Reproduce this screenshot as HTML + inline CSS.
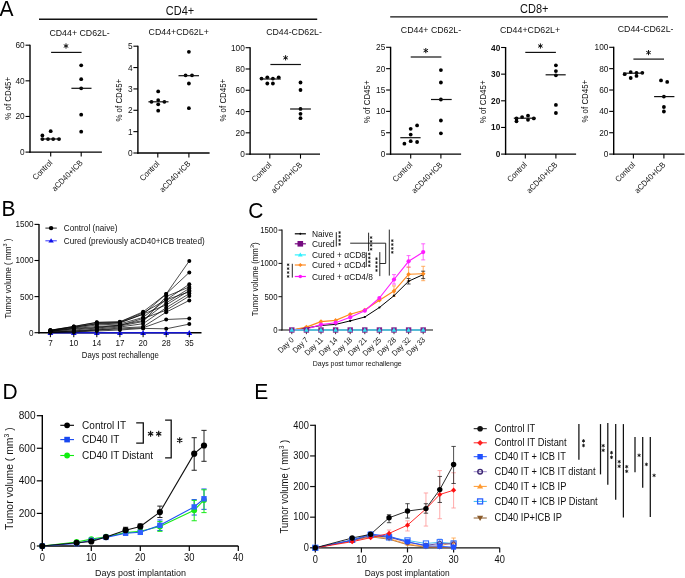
<!DOCTYPE html>
<html><head><meta charset="utf-8"><style>
html,body{margin:0;padding:0;background:#fff;}
svg{display:block;font-family:"Liberation Sans", sans-serif;will-change:transform;}
</style></head><body>
<svg width="685" height="578" viewBox="0 0 685 578">
<rect width="685" height="578" fill="#fff"/>
<text transform="translate(-0.50 15.50) scale(1 1.05)" font-size="21" text-anchor="start" fill="#000" font-weight="normal">A</text>
<text transform="translate(1.60 216.00) scale(1 1.05)" font-size="21" text-anchor="start" fill="#000" font-weight="normal">B</text>
<text transform="translate(248.20 218.20) scale(1 1.05)" font-size="21" text-anchor="start" fill="#000" font-weight="normal">C</text>
<text transform="translate(2.50 398.90) scale(1 1.05)" font-size="21" text-anchor="start" fill="#000" font-weight="normal">D</text>
<text transform="translate(254.30 398.90) scale(1 1.05)" font-size="21" text-anchor="start" fill="#000" font-weight="normal">E</text>
<text transform="translate(180.00 14.80) scale(1 1.1)" font-size="11" text-anchor="middle" fill="#111" font-weight="normal">CD4+</text>
<line x1="39.00" y1="19.30" x2="317.20" y2="19.30" stroke="#111" stroke-width="1.4"/>
<text transform="translate(534.30 12.80) scale(1 1.1)" font-size="11" text-anchor="middle" fill="#111" font-weight="normal">CD8+</text>
<line x1="390.20" y1="16.90" x2="668.00" y2="16.90" stroke="#111" stroke-width="1.4"/>
<line x1="30.00" y1="44.70" x2="30.00" y2="152.80" stroke="#000" stroke-width="1.4"/>
<line x1="29.30" y1="152.10" x2="101.90" y2="152.10" stroke="#000" stroke-width="1.4"/>
<line x1="25.50" y1="152.10" x2="30.00" y2="152.10" stroke="#000" stroke-width="1.1"/>
<text transform="translate(24.70 155.10) scale(1 1.1)" font-size="8.3" text-anchor="end" fill="#111" font-weight="normal">0</text>
<line x1="25.50" y1="116.47" x2="30.00" y2="116.47" stroke="#000" stroke-width="1.1"/>
<text transform="translate(24.70 119.47) scale(1 1.1)" font-size="8.3" text-anchor="end" fill="#111" font-weight="normal">20</text>
<line x1="25.50" y1="80.83" x2="30.00" y2="80.83" stroke="#000" stroke-width="1.1"/>
<text transform="translate(24.70 83.83) scale(1 1.1)" font-size="8.3" text-anchor="end" fill="#111" font-weight="normal">40</text>
<line x1="25.50" y1="45.20" x2="30.00" y2="45.20" stroke="#000" stroke-width="1.1"/>
<text transform="translate(24.70 48.20) scale(1 1.1)" font-size="8.3" text-anchor="end" fill="#111" font-weight="normal">60</text>
<line x1="50.70" y1="152.10" x2="50.70" y2="156.60" stroke="#000" stroke-width="1.1"/>
<line x1="81.20" y1="152.10" x2="81.20" y2="156.60" stroke="#000" stroke-width="1.1"/>
<text transform="translate(52.90 163.40) rotate(-45) scale(1 1.1)" font-size="7.5" text-anchor="end" fill="#111" font-weight="normal">Control</text>
<text transform="translate(83.40 163.40) rotate(-45) scale(1 1.1)" font-size="7.5" text-anchor="end" fill="#111" font-weight="normal">aCD40+ICB</text>
<circle cx="42.40" cy="135.40" r="1.9" fill="#000" stroke="none" stroke-width="0"/>
<circle cx="50.70" cy="131.20" r="1.9" fill="#000" stroke="none" stroke-width="0"/>
<circle cx="42.40" cy="139.10" r="1.9" fill="#000" stroke="none" stroke-width="0"/>
<circle cx="48.00" cy="139.10" r="1.9" fill="#000" stroke="none" stroke-width="0"/>
<circle cx="53.20" cy="139.10" r="1.9" fill="#000" stroke="none" stroke-width="0"/>
<circle cx="59.00" cy="139.10" r="1.9" fill="#000" stroke="none" stroke-width="0"/>
<circle cx="81.20" cy="65.30" r="1.9" fill="#000" stroke="none" stroke-width="0"/>
<circle cx="81.20" cy="79.20" r="1.9" fill="#000" stroke="none" stroke-width="0"/>
<circle cx="81.20" cy="88.30" r="1.9" fill="#000" stroke="none" stroke-width="0"/>
<circle cx="81.20" cy="114.70" r="1.9" fill="#000" stroke="none" stroke-width="0"/>
<circle cx="81.20" cy="131.70" r="1.9" fill="#000" stroke="none" stroke-width="0"/>
<line x1="40.70" y1="139.00" x2="60.40" y2="139.00" stroke="#111" stroke-width="1.2"/>
<line x1="71.40" y1="88.30" x2="91.50" y2="88.30" stroke="#111" stroke-width="1.2"/>
<text transform="translate(79.60 35.90) scale(1 1.1)" font-size="8.8" text-anchor="middle" fill="#111" font-weight="normal">CD44+ CD62L-</text>
<text transform="translate(11.20 98.30) rotate(-90) scale(1 1.1)" font-size="7.9" text-anchor="middle" fill="#111" font-weight="normal">% of CD45+</text>
<line x1="51.10" y1="52.40" x2="81.60" y2="52.40" stroke="#111" stroke-width="1.2"/>
<path d="M66.00,43.40L66.00,48.60M63.75,44.70L68.25,47.30M68.25,44.70L63.75,47.30" stroke="#111" stroke-width="1.0" fill="none"/>
<line x1="137.90" y1="45.70" x2="137.90" y2="153.70" stroke="#000" stroke-width="1.4"/>
<line x1="137.20" y1="153.00" x2="209.60" y2="153.00" stroke="#000" stroke-width="1.4"/>
<line x1="133.40" y1="153.00" x2="137.90" y2="153.00" stroke="#000" stroke-width="1.1"/>
<text transform="translate(132.60 156.00) scale(1 1.1)" font-size="8.3" text-anchor="end" fill="#111" font-weight="normal">0</text>
<line x1="133.40" y1="131.64" x2="137.90" y2="131.64" stroke="#000" stroke-width="1.1"/>
<text transform="translate(132.60 134.64) scale(1 1.1)" font-size="8.3" text-anchor="end" fill="#111" font-weight="normal">1</text>
<line x1="133.40" y1="110.28" x2="137.90" y2="110.28" stroke="#000" stroke-width="1.1"/>
<text transform="translate(132.60 113.28) scale(1 1.1)" font-size="8.3" text-anchor="end" fill="#111" font-weight="normal">2</text>
<line x1="133.40" y1="88.92" x2="137.90" y2="88.92" stroke="#000" stroke-width="1.1"/>
<text transform="translate(132.60 91.92) scale(1 1.1)" font-size="8.3" text-anchor="end" fill="#111" font-weight="normal">3</text>
<line x1="133.40" y1="67.56" x2="137.90" y2="67.56" stroke="#000" stroke-width="1.1"/>
<text transform="translate(132.60 70.56) scale(1 1.1)" font-size="8.3" text-anchor="end" fill="#111" font-weight="normal">4</text>
<line x1="133.40" y1="46.20" x2="137.90" y2="46.20" stroke="#000" stroke-width="1.1"/>
<text transform="translate(132.60 49.20) scale(1 1.1)" font-size="8.3" text-anchor="end" fill="#111" font-weight="normal">5</text>
<line x1="157.80" y1="153.00" x2="157.80" y2="157.50" stroke="#000" stroke-width="1.1"/>
<line x1="188.90" y1="153.00" x2="188.90" y2="157.50" stroke="#000" stroke-width="1.1"/>
<text transform="translate(160.00 164.30) rotate(-45) scale(1 1.1)" font-size="7.5" text-anchor="end" fill="#111" font-weight="normal">Control</text>
<text transform="translate(191.10 164.30) rotate(-45) scale(1 1.1)" font-size="7.5" text-anchor="end" fill="#111" font-weight="normal">aCD40+ICB</text>
<circle cx="158.20" cy="91.40" r="1.9" fill="#000" stroke="none" stroke-width="0"/>
<circle cx="151.50" cy="101.80" r="1.9" fill="#000" stroke="none" stroke-width="0"/>
<circle cx="158.20" cy="100.10" r="1.9" fill="#000" stroke="none" stroke-width="0"/>
<circle cx="164.40" cy="101.80" r="1.9" fill="#000" stroke="none" stroke-width="0"/>
<circle cx="158.20" cy="104.30" r="1.9" fill="#000" stroke="none" stroke-width="0"/>
<circle cx="158.20" cy="110.70" r="1.9" fill="#000" stroke="none" stroke-width="0"/>
<circle cx="188.90" cy="51.80" r="1.9" fill="#000" stroke="none" stroke-width="0"/>
<circle cx="185.60" cy="75.30" r="1.9" fill="#000" stroke="none" stroke-width="0"/>
<circle cx="192.00" cy="75.30" r="1.9" fill="#000" stroke="none" stroke-width="0"/>
<circle cx="188.90" cy="83.50" r="1.9" fill="#000" stroke="none" stroke-width="0"/>
<circle cx="188.90" cy="108.20" r="1.9" fill="#000" stroke="none" stroke-width="0"/>
<line x1="148.40" y1="101.80" x2="168.50" y2="101.80" stroke="#111" stroke-width="1.2"/>
<line x1="178.50" y1="75.70" x2="199.00" y2="75.70" stroke="#111" stroke-width="1.2"/>
<text transform="translate(178.70 35.00) scale(1 1.1)" font-size="8.8" text-anchor="middle" fill="#111" font-weight="normal">CD44+CD62L+</text>
<text transform="translate(122.20 100.20) rotate(-90) scale(1 1.1)" font-size="7.9" text-anchor="middle" fill="#111" font-weight="normal">% of CD45+</text>
<line x1="250.10" y1="47.20" x2="250.10" y2="154.80" stroke="#000" stroke-width="1.4"/>
<line x1="249.40" y1="154.10" x2="320.00" y2="154.10" stroke="#000" stroke-width="1.4"/>
<line x1="245.60" y1="154.10" x2="250.10" y2="154.10" stroke="#000" stroke-width="1.1"/>
<text transform="translate(244.80 157.10) scale(1 1.1)" font-size="8.3" text-anchor="end" fill="#111" font-weight="normal">0</text>
<line x1="245.60" y1="132.82" x2="250.10" y2="132.82" stroke="#000" stroke-width="1.1"/>
<text transform="translate(244.80 135.82) scale(1 1.1)" font-size="8.3" text-anchor="end" fill="#111" font-weight="normal">20</text>
<line x1="245.60" y1="111.54" x2="250.10" y2="111.54" stroke="#000" stroke-width="1.1"/>
<text transform="translate(244.80 114.54) scale(1 1.1)" font-size="8.3" text-anchor="end" fill="#111" font-weight="normal">40</text>
<line x1="245.60" y1="90.26" x2="250.10" y2="90.26" stroke="#000" stroke-width="1.1"/>
<text transform="translate(244.80 93.26) scale(1 1.1)" font-size="8.3" text-anchor="end" fill="#111" font-weight="normal">60</text>
<line x1="245.60" y1="68.98" x2="250.10" y2="68.98" stroke="#000" stroke-width="1.1"/>
<text transform="translate(244.80 71.98) scale(1 1.1)" font-size="8.3" text-anchor="end" fill="#111" font-weight="normal">80</text>
<line x1="245.60" y1="47.70" x2="250.10" y2="47.70" stroke="#000" stroke-width="1.1"/>
<text transform="translate(244.80 50.70) scale(1 1.1)" font-size="8.3" text-anchor="end" fill="#111" font-weight="normal">100</text>
<line x1="269.80" y1="154.10" x2="269.80" y2="158.60" stroke="#000" stroke-width="1.1"/>
<line x1="300.50" y1="154.10" x2="300.50" y2="158.60" stroke="#000" stroke-width="1.1"/>
<text transform="translate(272.00 165.40) rotate(-45) scale(1 1.1)" font-size="7.5" text-anchor="end" fill="#111" font-weight="normal">Control</text>
<text transform="translate(302.70 165.40) rotate(-45) scale(1 1.1)" font-size="7.5" text-anchor="end" fill="#111" font-weight="normal">aCD40+ICB</text>
<circle cx="261.50" cy="78.60" r="1.9" fill="#000" stroke="none" stroke-width="0"/>
<circle cx="267.30" cy="77.30" r="1.9" fill="#000" stroke="none" stroke-width="0"/>
<circle cx="272.90" cy="78.60" r="1.9" fill="#000" stroke="none" stroke-width="0"/>
<circle cx="278.70" cy="77.30" r="1.9" fill="#000" stroke="none" stroke-width="0"/>
<circle cx="267.30" cy="83.50" r="1.9" fill="#000" stroke="none" stroke-width="0"/>
<circle cx="272.90" cy="83.50" r="1.9" fill="#000" stroke="none" stroke-width="0"/>
<circle cx="300.50" cy="82.50" r="1.9" fill="#000" stroke="none" stroke-width="0"/>
<circle cx="300.50" cy="90.00" r="1.9" fill="#000" stroke="none" stroke-width="0"/>
<circle cx="300.50" cy="108.90" r="1.9" fill="#000" stroke="none" stroke-width="0"/>
<circle cx="300.50" cy="113.80" r="1.9" fill="#000" stroke="none" stroke-width="0"/>
<circle cx="300.50" cy="118.20" r="1.9" fill="#000" stroke="none" stroke-width="0"/>
<line x1="260.00" y1="79.00" x2="280.80" y2="79.00" stroke="#111" stroke-width="1.2"/>
<line x1="290.10" y1="109.00" x2="310.90" y2="109.00" stroke="#111" stroke-width="1.2"/>
<text transform="translate(294.00 35.00) scale(1 1.1)" font-size="8.8" text-anchor="middle" fill="#111" font-weight="normal">CD44-CD62L-</text>
<text transform="translate(225.80 100.20) rotate(-90) scale(1 1.1)" font-size="7.9" text-anchor="middle" fill="#111" font-weight="normal">% of CD45+</text>
<line x1="270.40" y1="64.50" x2="300.90" y2="64.50" stroke="#111" stroke-width="1.2"/>
<path d="M285.60,55.20L285.60,60.40M283.35,56.50L287.85,59.10M287.85,56.50L283.35,59.10" stroke="#111" stroke-width="1.0" fill="none"/>
<line x1="390.60" y1="46.80" x2="390.60" y2="154.80" stroke="#000" stroke-width="1.4"/>
<line x1="389.90" y1="154.10" x2="461.10" y2="154.10" stroke="#000" stroke-width="1.4"/>
<line x1="386.10" y1="154.10" x2="390.60" y2="154.10" stroke="#000" stroke-width="1.1"/>
<text transform="translate(385.30 157.10) scale(1 1.1)" font-size="8.3" text-anchor="end" fill="#111" font-weight="normal">0</text>
<line x1="386.10" y1="132.74" x2="390.60" y2="132.74" stroke="#000" stroke-width="1.1"/>
<text transform="translate(385.30 135.74) scale(1 1.1)" font-size="8.3" text-anchor="end" fill="#111" font-weight="normal">5</text>
<line x1="386.10" y1="111.38" x2="390.60" y2="111.38" stroke="#000" stroke-width="1.1"/>
<text transform="translate(385.30 114.38) scale(1 1.1)" font-size="8.3" text-anchor="end" fill="#111" font-weight="normal">10</text>
<line x1="386.10" y1="90.02" x2="390.60" y2="90.02" stroke="#000" stroke-width="1.1"/>
<text transform="translate(385.30 93.02) scale(1 1.1)" font-size="8.3" text-anchor="end" fill="#111" font-weight="normal">15</text>
<line x1="386.10" y1="68.66" x2="390.60" y2="68.66" stroke="#000" stroke-width="1.1"/>
<text transform="translate(385.30 71.66) scale(1 1.1)" font-size="8.3" text-anchor="end" fill="#111" font-weight="normal">20</text>
<line x1="386.10" y1="47.30" x2="390.60" y2="47.30" stroke="#000" stroke-width="1.1"/>
<text transform="translate(385.30 50.30) scale(1 1.1)" font-size="8.3" text-anchor="end" fill="#111" font-weight="normal">25</text>
<line x1="410.70" y1="154.10" x2="410.70" y2="158.60" stroke="#000" stroke-width="1.1"/>
<line x1="440.90" y1="154.10" x2="440.90" y2="158.60" stroke="#000" stroke-width="1.1"/>
<text transform="translate(412.90 165.40) rotate(-45) scale(1 1.1)" font-size="7.5" text-anchor="end" fill="#111" font-weight="normal">Control</text>
<text transform="translate(443.10 165.40) rotate(-45) scale(1 1.1)" font-size="7.5" text-anchor="end" fill="#111" font-weight="normal">aCD40+ICB</text>
<circle cx="404.40" cy="143.70" r="1.9" fill="#000" stroke="none" stroke-width="0"/>
<circle cx="410.70" cy="128.80" r="1.9" fill="#000" stroke="none" stroke-width="0"/>
<circle cx="410.70" cy="134.60" r="1.9" fill="#000" stroke="none" stroke-width="0"/>
<circle cx="410.70" cy="141.20" r="1.9" fill="#000" stroke="none" stroke-width="0"/>
<circle cx="417.10" cy="125.40" r="1.9" fill="#000" stroke="none" stroke-width="0"/>
<circle cx="417.10" cy="142.00" r="1.9" fill="#000" stroke="none" stroke-width="0"/>
<circle cx="440.90" cy="70.10" r="1.9" fill="#000" stroke="none" stroke-width="0"/>
<circle cx="440.90" cy="82.50" r="1.9" fill="#000" stroke="none" stroke-width="0"/>
<circle cx="440.90" cy="99.50" r="1.9" fill="#000" stroke="none" stroke-width="0"/>
<circle cx="440.90" cy="120.50" r="1.9" fill="#000" stroke="none" stroke-width="0"/>
<circle cx="440.90" cy="133.30" r="1.9" fill="#000" stroke="none" stroke-width="0"/>
<line x1="400.30" y1="137.70" x2="420.60" y2="137.70" stroke="#111" stroke-width="1.2"/>
<line x1="431.00" y1="99.50" x2="451.70" y2="99.50" stroke="#111" stroke-width="1.2"/>
<text transform="translate(431.00 32.60) scale(1 1.1)" font-size="8.8" text-anchor="middle" fill="#111" font-weight="normal">CD44+ CD62L-</text>
<text transform="translate(369.60 101.90) rotate(-90) scale(1 1.1)" font-size="7.9" text-anchor="middle" fill="#111" font-weight="normal">% of CD45+</text>
<line x1="410.70" y1="57.00" x2="441.40" y2="57.00" stroke="#111" stroke-width="1.2"/>
<path d="M425.80,48.00L425.80,53.20M423.55,49.30L428.05,51.90M428.05,49.30L423.55,51.90" stroke="#111" stroke-width="1.0" fill="none"/>
<line x1="505.60" y1="47.00" x2="505.60" y2="154.80" stroke="#000" stroke-width="1.4"/>
<line x1="504.90" y1="154.10" x2="576.10" y2="154.10" stroke="#000" stroke-width="1.4"/>
<line x1="501.10" y1="154.10" x2="505.60" y2="154.10" stroke="#000" stroke-width="1.1"/>
<text transform="translate(500.30 157.10) scale(1 1.1)" font-size="8.3" text-anchor="end" fill="#111" font-weight="bold">0</text>
<line x1="501.10" y1="127.45" x2="505.60" y2="127.45" stroke="#000" stroke-width="1.1"/>
<text transform="translate(500.30 130.45) scale(1 1.1)" font-size="8.3" text-anchor="end" fill="#111" font-weight="bold">10</text>
<line x1="501.10" y1="100.80" x2="505.60" y2="100.80" stroke="#000" stroke-width="1.1"/>
<text transform="translate(500.30 103.80) scale(1 1.1)" font-size="8.3" text-anchor="end" fill="#111" font-weight="bold">20</text>
<line x1="501.10" y1="74.15" x2="505.60" y2="74.15" stroke="#000" stroke-width="1.1"/>
<text transform="translate(500.30 77.15) scale(1 1.1)" font-size="8.3" text-anchor="end" fill="#111" font-weight="bold">30</text>
<line x1="501.10" y1="47.50" x2="505.60" y2="47.50" stroke="#000" stroke-width="1.1"/>
<text transform="translate(500.30 50.50) scale(1 1.1)" font-size="8.3" text-anchor="end" fill="#111" font-weight="bold">40</text>
<line x1="525.30" y1="154.10" x2="525.30" y2="158.60" stroke="#000" stroke-width="1.1"/>
<line x1="555.90" y1="154.10" x2="555.90" y2="158.60" stroke="#000" stroke-width="1.1"/>
<text transform="translate(527.50 165.40) rotate(-45) scale(1 1.1)" font-size="7.5" text-anchor="end" fill="#111" font-weight="normal">Control</text>
<text transform="translate(558.10 165.40) rotate(-45) scale(1 1.1)" font-size="7.5" text-anchor="end" fill="#111" font-weight="normal">aCD40+ICB</text>
<circle cx="516.50" cy="118.40" r="1.9" fill="#000" stroke="none" stroke-width="0"/>
<circle cx="516.50" cy="121.30" r="1.9" fill="#000" stroke="none" stroke-width="0"/>
<circle cx="522.10" cy="117.10" r="1.9" fill="#000" stroke="none" stroke-width="0"/>
<circle cx="528.00" cy="115.70" r="1.9" fill="#000" stroke="none" stroke-width="0"/>
<circle cx="528.00" cy="119.80" r="1.9" fill="#000" stroke="none" stroke-width="0"/>
<circle cx="533.80" cy="118.40" r="1.9" fill="#000" stroke="none" stroke-width="0"/>
<circle cx="555.90" cy="65.30" r="1.9" fill="#000" stroke="none" stroke-width="0"/>
<circle cx="555.90" cy="71.10" r="1.9" fill="#000" stroke="none" stroke-width="0"/>
<circle cx="555.90" cy="75.30" r="1.9" fill="#000" stroke="none" stroke-width="0"/>
<circle cx="555.90" cy="104.90" r="1.9" fill="#000" stroke="none" stroke-width="0"/>
<circle cx="555.90" cy="113.00" r="1.9" fill="#000" stroke="none" stroke-width="0"/>
<line x1="513.80" y1="118.20" x2="535.60" y2="118.20" stroke="#111" stroke-width="1.2"/>
<line x1="545.60" y1="74.80" x2="565.70" y2="74.80" stroke="#111" stroke-width="1.2"/>
<text transform="translate(530.00 32.60) scale(1 1.1)" font-size="8.8" text-anchor="middle" fill="#111" font-weight="normal">CD44+CD62L+</text>
<text transform="translate(486.00 101.90) rotate(-90) scale(1 1.1)" font-size="7.9" text-anchor="middle" fill="#111" font-weight="normal">% of CD45+</text>
<line x1="525.30" y1="52.40" x2="555.90" y2="52.40" stroke="#111" stroke-width="1.2"/>
<path d="M540.40,43.40L540.40,48.60M538.15,44.70L542.65,47.30M542.65,44.70L538.15,47.30" stroke="#111" stroke-width="1.0" fill="none"/>
<line x1="613.70" y1="46.80" x2="613.70" y2="154.80" stroke="#000" stroke-width="1.4"/>
<line x1="613.00" y1="154.10" x2="684.50" y2="154.10" stroke="#000" stroke-width="1.4"/>
<line x1="609.20" y1="154.10" x2="613.70" y2="154.10" stroke="#000" stroke-width="1.1"/>
<text transform="translate(608.40 157.10) scale(1 1.1)" font-size="8.3" text-anchor="end" fill="#111" font-weight="normal">0</text>
<line x1="609.20" y1="132.74" x2="613.70" y2="132.74" stroke="#000" stroke-width="1.1"/>
<text transform="translate(608.40 135.74) scale(1 1.1)" font-size="8.3" text-anchor="end" fill="#111" font-weight="normal">20</text>
<line x1="609.20" y1="111.38" x2="613.70" y2="111.38" stroke="#000" stroke-width="1.1"/>
<text transform="translate(608.40 114.38) scale(1 1.1)" font-size="8.3" text-anchor="end" fill="#111" font-weight="normal">40</text>
<line x1="609.20" y1="90.02" x2="613.70" y2="90.02" stroke="#000" stroke-width="1.1"/>
<text transform="translate(608.40 93.02) scale(1 1.1)" font-size="8.3" text-anchor="end" fill="#111" font-weight="normal">60</text>
<line x1="609.20" y1="68.66" x2="613.70" y2="68.66" stroke="#000" stroke-width="1.1"/>
<text transform="translate(608.40 71.66) scale(1 1.1)" font-size="8.3" text-anchor="end" fill="#111" font-weight="normal">80</text>
<line x1="609.20" y1="47.30" x2="613.70" y2="47.30" stroke="#000" stroke-width="1.1"/>
<text transform="translate(608.40 50.30) scale(1 1.1)" font-size="8.3" text-anchor="end" fill="#111" font-weight="normal">100</text>
<line x1="633.40" y1="154.10" x2="633.40" y2="158.60" stroke="#000" stroke-width="1.1"/>
<line x1="663.90" y1="154.10" x2="663.90" y2="158.60" stroke="#000" stroke-width="1.1"/>
<text transform="translate(635.60 165.40) rotate(-45) scale(1 1.1)" font-size="7.5" text-anchor="end" fill="#111" font-weight="normal">Control</text>
<text transform="translate(666.10 165.40) rotate(-45) scale(1 1.1)" font-size="7.5" text-anchor="end" fill="#111" font-weight="normal">aCD40+ICB</text>
<circle cx="624.70" cy="74.20" r="1.9" fill="#000" stroke="none" stroke-width="0"/>
<circle cx="630.70" cy="72.10" r="1.9" fill="#000" stroke="none" stroke-width="0"/>
<circle cx="630.70" cy="78.00" r="1.9" fill="#000" stroke="none" stroke-width="0"/>
<circle cx="636.50" cy="72.80" r="1.9" fill="#000" stroke="none" stroke-width="0"/>
<circle cx="636.50" cy="75.90" r="1.9" fill="#000" stroke="none" stroke-width="0"/>
<circle cx="642.30" cy="72.80" r="1.9" fill="#000" stroke="none" stroke-width="0"/>
<circle cx="661.00" cy="80.40" r="1.9" fill="#000" stroke="none" stroke-width="0"/>
<circle cx="667.20" cy="81.90" r="1.9" fill="#000" stroke="none" stroke-width="0"/>
<circle cx="663.90" cy="96.60" r="1.9" fill="#000" stroke="none" stroke-width="0"/>
<circle cx="663.90" cy="107.00" r="1.9" fill="#000" stroke="none" stroke-width="0"/>
<circle cx="663.90" cy="111.50" r="1.9" fill="#000" stroke="none" stroke-width="0"/>
<line x1="623.00" y1="73.20" x2="643.70" y2="73.20" stroke="#111" stroke-width="1.2"/>
<line x1="654.10" y1="96.60" x2="674.40" y2="96.60" stroke="#111" stroke-width="1.2"/>
<text transform="translate(645.60 32.40) scale(1 1.1)" font-size="8.8" text-anchor="middle" fill="#111" font-weight="normal">CD44-CD62L-</text>
<text transform="translate(587.60 101.20) rotate(-90) scale(1 1.1)" font-size="7.9" text-anchor="middle" fill="#111" font-weight="normal">% of CD45+</text>
<line x1="633.40" y1="59.10" x2="664.00" y2="59.10" stroke="#111" stroke-width="1.2"/>
<path d="M648.50,50.00L648.50,55.20M646.25,51.30L650.75,53.90M650.75,51.30L646.25,53.90" stroke="#111" stroke-width="1.0" fill="none"/>
<line x1="39.00" y1="223.90" x2="39.00" y2="333.40" stroke="#000" stroke-width="1.35"/>
<line x1="34.50" y1="332.70" x2="39.00" y2="332.70" stroke="#000" stroke-width="1.1"/>
<text transform="translate(33.50 335.60) scale(1 1.1)" font-size="8.1" text-anchor="end" fill="#111" font-weight="normal">0</text>
<line x1="34.50" y1="296.60" x2="39.00" y2="296.60" stroke="#000" stroke-width="1.1"/>
<text transform="translate(33.50 299.50) scale(1 1.1)" font-size="8.1" text-anchor="end" fill="#111" font-weight="normal">500</text>
<line x1="34.50" y1="260.50" x2="39.00" y2="260.50" stroke="#000" stroke-width="1.1"/>
<text transform="translate(33.50 263.40) scale(1 1.1)" font-size="8.1" text-anchor="end" fill="#111" font-weight="normal">1000</text>
<line x1="34.50" y1="224.40" x2="39.00" y2="224.40" stroke="#000" stroke-width="1.1"/>
<text transform="translate(33.50 227.30) scale(1 1.1)" font-size="8.1" text-anchor="end" fill="#111" font-weight="normal">1500</text>
<text transform="translate(50.40 345.90) scale(1 1.1)" font-size="8.1" text-anchor="middle" fill="#111" font-weight="normal">7</text>
<text transform="translate(73.80 345.90) scale(1 1.1)" font-size="8.1" text-anchor="middle" fill="#111" font-weight="normal">10</text>
<text transform="translate(96.80 345.90) scale(1 1.1)" font-size="8.1" text-anchor="middle" fill="#111" font-weight="normal">14</text>
<text transform="translate(119.90 345.90) scale(1 1.1)" font-size="8.1" text-anchor="middle" fill="#111" font-weight="normal">17</text>
<text transform="translate(143.10 345.90) scale(1 1.1)" font-size="8.1" text-anchor="middle" fill="#111" font-weight="normal">20</text>
<text transform="translate(166.20 345.90) scale(1 1.1)" font-size="8.1" text-anchor="middle" fill="#111" font-weight="normal">28</text>
<text transform="translate(189.30 345.90) scale(1 1.1)" font-size="8.1" text-anchor="middle" fill="#111" font-weight="normal">35</text>
<text transform="translate(120.30 357.90) scale(1 1.1)" font-size="7.8" text-anchor="middle" fill="#111" font-weight="normal">Days post rechallenge</text>
<text transform="translate(10.50 278.50) rotate(-90) scale(1 1.1)" font-size="8.1" text-anchor="middle" fill="#111" font-weight="normal">Tumor volume ( mm<tspan dy="-3.2" font-size="5.5">3</tspan><tspan dy="3.2"> )</tspan></text>
<line x1="38.30" y1="332.70" x2="201.50" y2="332.70" stroke="#000" stroke-width="1.35"/>
<line x1="50.40" y1="332.70" x2="189.30" y2="332.70" stroke="#1414d0" stroke-width="1.5"/>
<polygon points="47.50,335.00 53.30,335.00 50.40,330.10" fill="#1010f0"/>
<line x1="50.40" y1="332.70" x2="50.40" y2="337.20" stroke="#000" stroke-width="1.0"/>
<polygon points="70.90,335.00 76.70,335.00 73.80,330.10" fill="#1010f0"/>
<line x1="73.80" y1="332.70" x2="73.80" y2="337.20" stroke="#000" stroke-width="1.0"/>
<polygon points="93.90,335.00 99.70,335.00 96.80,330.10" fill="#1010f0"/>
<line x1="96.80" y1="332.70" x2="96.80" y2="337.20" stroke="#000" stroke-width="1.0"/>
<polygon points="117.00,335.00 122.80,335.00 119.90,330.10" fill="#1010f0"/>
<line x1="119.90" y1="332.70" x2="119.90" y2="337.20" stroke="#000" stroke-width="1.0"/>
<polygon points="140.20,335.00 146.00,335.00 143.10,330.10" fill="#1010f0"/>
<line x1="143.10" y1="332.70" x2="143.10" y2="337.20" stroke="#000" stroke-width="1.0"/>
<polygon points="163.30,335.00 169.10,335.00 166.20,330.10" fill="#1010f0"/>
<line x1="166.20" y1="332.70" x2="166.20" y2="337.20" stroke="#000" stroke-width="1.0"/>
<polygon points="186.40,335.00 192.20,335.00 189.30,330.10" fill="#1010f0"/>
<line x1="189.30" y1="332.70" x2="189.30" y2="337.20" stroke="#000" stroke-width="1.0"/>
<polyline points="50.40,330.20 73.80,326.50 96.80,322.50 119.90,321.80 143.10,311.80 166.20,294.00 189.30,260.90" fill="none" stroke="#000" stroke-width="0.7" stroke-linejoin="round"/>
<polyline points="50.40,330.50 73.80,327.50 96.80,323.50 119.90,322.50 143.10,314.30 166.20,294.00 189.30,272.40" fill="none" stroke="#000" stroke-width="0.7" stroke-linejoin="round"/>
<polyline points="50.40,331.00 73.80,328.00 96.80,325.00 119.90,324.00 143.10,317.40 166.20,299.80 189.30,284.20" fill="none" stroke="#000" stroke-width="0.7" stroke-linejoin="round"/>
<polyline points="50.40,331.00 73.80,329.00 96.80,327.50 119.90,325.00 143.10,320.50 166.20,302.90 189.30,288.40" fill="none" stroke="#000" stroke-width="0.7" stroke-linejoin="round"/>
<polyline points="50.40,330.30 73.80,327.00 96.80,324.00 119.90,323.00 143.10,314.00 166.20,305.00 189.30,290.50" fill="none" stroke="#000" stroke-width="0.7" stroke-linejoin="round"/>
<polyline points="50.40,332.00 73.80,331.00 96.80,329.00 119.90,327.00 143.10,323.70 166.20,307.70 189.30,293.60" fill="none" stroke="#000" stroke-width="0.7" stroke-linejoin="round"/>
<polyline points="50.40,331.50 73.80,328.50 96.80,326.50 119.90,325.50 143.10,318.50 166.20,310.20 189.30,296.00" fill="none" stroke="#000" stroke-width="0.7" stroke-linejoin="round"/>
<polyline points="50.40,332.50 73.80,331.00 96.80,330.00 119.90,328.00 143.10,326.80 166.20,312.20 189.30,300.40" fill="none" stroke="#000" stroke-width="0.7" stroke-linejoin="round"/>
<polyline points="50.40,332.00 73.80,332.00 96.80,330.00 119.90,329.00 143.10,327.80 166.20,319.50 189.30,318.50" fill="none" stroke="#000" stroke-width="0.7" stroke-linejoin="round"/>
<polyline points="50.40,332.50 73.80,332.00 96.80,331.00 119.90,330.00 143.10,328.40 166.20,328.80 189.30,324.10" fill="none" stroke="#000" stroke-width="0.7" stroke-linejoin="round"/>
<polyline points="50.40,330.30 73.80,326.40 96.80,322.30 119.90,322.00 143.10,312.80 166.20,299.80 189.30,291.80" fill="none" stroke="#000" stroke-width="0.7" stroke-linejoin="round"/>
<polyline points="50.40,331.50 73.80,330.00 96.80,328.00 119.90,326.00 143.10,321.50 166.20,296.50 189.30,287.00" fill="none" stroke="#000" stroke-width="0.7" stroke-linejoin="round"/>
<circle cx="50.40" cy="330.20" r="2.0" fill="#000" stroke="none" stroke-width="0"/>
<circle cx="73.80" cy="326.50" r="2.0" fill="#000" stroke="none" stroke-width="0"/>
<circle cx="96.80" cy="322.50" r="2.0" fill="#000" stroke="none" stroke-width="0"/>
<circle cx="119.90" cy="321.80" r="2.0" fill="#000" stroke="none" stroke-width="0"/>
<circle cx="143.10" cy="311.80" r="2.0" fill="#000" stroke="none" stroke-width="0"/>
<circle cx="166.20" cy="294.00" r="2.0" fill="#000" stroke="none" stroke-width="0"/>
<circle cx="189.30" cy="260.90" r="2.0" fill="#000" stroke="none" stroke-width="0"/>
<circle cx="50.40" cy="330.50" r="2.0" fill="#000" stroke="none" stroke-width="0"/>
<circle cx="73.80" cy="327.50" r="2.0" fill="#000" stroke="none" stroke-width="0"/>
<circle cx="96.80" cy="323.50" r="2.0" fill="#000" stroke="none" stroke-width="0"/>
<circle cx="119.90" cy="322.50" r="2.0" fill="#000" stroke="none" stroke-width="0"/>
<circle cx="143.10" cy="314.30" r="2.0" fill="#000" stroke="none" stroke-width="0"/>
<circle cx="166.20" cy="294.00" r="2.0" fill="#000" stroke="none" stroke-width="0"/>
<circle cx="189.30" cy="272.40" r="2.0" fill="#000" stroke="none" stroke-width="0"/>
<circle cx="50.40" cy="331.00" r="2.0" fill="#000" stroke="none" stroke-width="0"/>
<circle cx="73.80" cy="328.00" r="2.0" fill="#000" stroke="none" stroke-width="0"/>
<circle cx="96.80" cy="325.00" r="2.0" fill="#000" stroke="none" stroke-width="0"/>
<circle cx="119.90" cy="324.00" r="2.0" fill="#000" stroke="none" stroke-width="0"/>
<circle cx="143.10" cy="317.40" r="2.0" fill="#000" stroke="none" stroke-width="0"/>
<circle cx="166.20" cy="299.80" r="2.0" fill="#000" stroke="none" stroke-width="0"/>
<circle cx="189.30" cy="284.20" r="2.0" fill="#000" stroke="none" stroke-width="0"/>
<circle cx="50.40" cy="331.00" r="2.0" fill="#000" stroke="none" stroke-width="0"/>
<circle cx="73.80" cy="329.00" r="2.0" fill="#000" stroke="none" stroke-width="0"/>
<circle cx="96.80" cy="327.50" r="2.0" fill="#000" stroke="none" stroke-width="0"/>
<circle cx="119.90" cy="325.00" r="2.0" fill="#000" stroke="none" stroke-width="0"/>
<circle cx="143.10" cy="320.50" r="2.0" fill="#000" stroke="none" stroke-width="0"/>
<circle cx="166.20" cy="302.90" r="2.0" fill="#000" stroke="none" stroke-width="0"/>
<circle cx="189.30" cy="288.40" r="2.0" fill="#000" stroke="none" stroke-width="0"/>
<circle cx="50.40" cy="330.30" r="2.0" fill="#000" stroke="none" stroke-width="0"/>
<circle cx="73.80" cy="327.00" r="2.0" fill="#000" stroke="none" stroke-width="0"/>
<circle cx="96.80" cy="324.00" r="2.0" fill="#000" stroke="none" stroke-width="0"/>
<circle cx="119.90" cy="323.00" r="2.0" fill="#000" stroke="none" stroke-width="0"/>
<circle cx="143.10" cy="314.00" r="2.0" fill="#000" stroke="none" stroke-width="0"/>
<circle cx="166.20" cy="305.00" r="2.0" fill="#000" stroke="none" stroke-width="0"/>
<circle cx="189.30" cy="290.50" r="2.0" fill="#000" stroke="none" stroke-width="0"/>
<circle cx="50.40" cy="332.00" r="2.0" fill="#000" stroke="none" stroke-width="0"/>
<circle cx="73.80" cy="331.00" r="2.0" fill="#000" stroke="none" stroke-width="0"/>
<circle cx="96.80" cy="329.00" r="2.0" fill="#000" stroke="none" stroke-width="0"/>
<circle cx="119.90" cy="327.00" r="2.0" fill="#000" stroke="none" stroke-width="0"/>
<circle cx="143.10" cy="323.70" r="2.0" fill="#000" stroke="none" stroke-width="0"/>
<circle cx="166.20" cy="307.70" r="2.0" fill="#000" stroke="none" stroke-width="0"/>
<circle cx="189.30" cy="293.60" r="2.0" fill="#000" stroke="none" stroke-width="0"/>
<circle cx="50.40" cy="331.50" r="2.0" fill="#000" stroke="none" stroke-width="0"/>
<circle cx="73.80" cy="328.50" r="2.0" fill="#000" stroke="none" stroke-width="0"/>
<circle cx="96.80" cy="326.50" r="2.0" fill="#000" stroke="none" stroke-width="0"/>
<circle cx="119.90" cy="325.50" r="2.0" fill="#000" stroke="none" stroke-width="0"/>
<circle cx="143.10" cy="318.50" r="2.0" fill="#000" stroke="none" stroke-width="0"/>
<circle cx="166.20" cy="310.20" r="2.0" fill="#000" stroke="none" stroke-width="0"/>
<circle cx="189.30" cy="296.00" r="2.0" fill="#000" stroke="none" stroke-width="0"/>
<circle cx="50.40" cy="332.50" r="2.0" fill="#000" stroke="none" stroke-width="0"/>
<circle cx="73.80" cy="331.00" r="2.0" fill="#000" stroke="none" stroke-width="0"/>
<circle cx="96.80" cy="330.00" r="2.0" fill="#000" stroke="none" stroke-width="0"/>
<circle cx="119.90" cy="328.00" r="2.0" fill="#000" stroke="none" stroke-width="0"/>
<circle cx="143.10" cy="326.80" r="2.0" fill="#000" stroke="none" stroke-width="0"/>
<circle cx="166.20" cy="312.20" r="2.0" fill="#000" stroke="none" stroke-width="0"/>
<circle cx="189.30" cy="300.40" r="2.0" fill="#000" stroke="none" stroke-width="0"/>
<circle cx="50.40" cy="332.00" r="2.0" fill="#000" stroke="none" stroke-width="0"/>
<circle cx="73.80" cy="332.00" r="2.0" fill="#000" stroke="none" stroke-width="0"/>
<circle cx="96.80" cy="330.00" r="2.0" fill="#000" stroke="none" stroke-width="0"/>
<circle cx="119.90" cy="329.00" r="2.0" fill="#000" stroke="none" stroke-width="0"/>
<circle cx="143.10" cy="327.80" r="2.0" fill="#000" stroke="none" stroke-width="0"/>
<circle cx="166.20" cy="319.50" r="2.0" fill="#000" stroke="none" stroke-width="0"/>
<circle cx="189.30" cy="318.50" r="2.0" fill="#000" stroke="none" stroke-width="0"/>
<circle cx="50.40" cy="332.50" r="2.0" fill="#000" stroke="none" stroke-width="0"/>
<circle cx="73.80" cy="332.00" r="2.0" fill="#000" stroke="none" stroke-width="0"/>
<circle cx="96.80" cy="331.00" r="2.0" fill="#000" stroke="none" stroke-width="0"/>
<circle cx="119.90" cy="330.00" r="2.0" fill="#000" stroke="none" stroke-width="0"/>
<circle cx="143.10" cy="328.40" r="2.0" fill="#000" stroke="none" stroke-width="0"/>
<circle cx="166.20" cy="328.80" r="2.0" fill="#000" stroke="none" stroke-width="0"/>
<circle cx="189.30" cy="324.10" r="2.0" fill="#000" stroke="none" stroke-width="0"/>
<circle cx="50.40" cy="330.30" r="2.0" fill="#000" stroke="none" stroke-width="0"/>
<circle cx="73.80" cy="326.40" r="2.0" fill="#000" stroke="none" stroke-width="0"/>
<circle cx="96.80" cy="322.30" r="2.0" fill="#000" stroke="none" stroke-width="0"/>
<circle cx="119.90" cy="322.00" r="2.0" fill="#000" stroke="none" stroke-width="0"/>
<circle cx="143.10" cy="312.80" r="2.0" fill="#000" stroke="none" stroke-width="0"/>
<circle cx="166.20" cy="299.80" r="2.0" fill="#000" stroke="none" stroke-width="0"/>
<circle cx="189.30" cy="291.80" r="2.0" fill="#000" stroke="none" stroke-width="0"/>
<circle cx="50.40" cy="331.50" r="2.0" fill="#000" stroke="none" stroke-width="0"/>
<circle cx="73.80" cy="330.00" r="2.0" fill="#000" stroke="none" stroke-width="0"/>
<circle cx="96.80" cy="328.00" r="2.0" fill="#000" stroke="none" stroke-width="0"/>
<circle cx="119.90" cy="326.00" r="2.0" fill="#000" stroke="none" stroke-width="0"/>
<circle cx="143.10" cy="321.50" r="2.0" fill="#000" stroke="none" stroke-width="0"/>
<circle cx="166.20" cy="296.50" r="2.0" fill="#000" stroke="none" stroke-width="0"/>
<circle cx="189.30" cy="287.00" r="2.0" fill="#000" stroke="none" stroke-width="0"/>
<line x1="45.40" y1="228.10" x2="56.80" y2="228.10" stroke="#111" stroke-width="0.9"/>
<circle cx="51.10" cy="228.10" r="2.2" fill="#000" stroke="none" stroke-width="0"/>
<text transform="translate(63.80 231.10) scale(1 1.1)" font-size="8.2" text-anchor="start" fill="#111" font-weight="normal">Control (naive)</text>
<line x1="45.40" y1="240.80" x2="56.80" y2="240.80" stroke="#2020ff" stroke-width="0.9"/>
<polygon points="48.4,242.6 53.8,242.6 51.1,238.2" fill="#1010e8"/>
<text transform="translate(63.80 243.80) scale(1 1.1)" font-size="8.2" text-anchor="start" fill="#111" font-weight="normal">Cured (previously aCD40+ICB treated)</text>
<line x1="282.00" y1="229.60" x2="282.00" y2="330.60" stroke="#111" stroke-width="1.2"/>
<line x1="281.40" y1="330.00" x2="433.00" y2="330.00" stroke="#111" stroke-width="1.2"/>
<line x1="278.50" y1="330.00" x2="282.00" y2="330.00" stroke="#111" stroke-width="1.0"/>
<text transform="translate(277.50 332.80) scale(1 1.1)" font-size="7.8" text-anchor="end" fill="#111" font-weight="normal">0</text>
<line x1="278.50" y1="296.70" x2="282.00" y2="296.70" stroke="#111" stroke-width="1.0"/>
<text transform="translate(277.50 299.50) scale(1 1.1)" font-size="7.8" text-anchor="end" fill="#111" font-weight="normal">500</text>
<line x1="278.50" y1="263.40" x2="282.00" y2="263.40" stroke="#111" stroke-width="1.0"/>
<text transform="translate(277.50 266.20) scale(1 1.1)" font-size="7.8" text-anchor="end" fill="#111" font-weight="normal">1000</text>
<line x1="278.50" y1="230.10" x2="282.00" y2="230.10" stroke="#111" stroke-width="1.0"/>
<text transform="translate(277.50 232.90) scale(1 1.1)" font-size="7.8" text-anchor="end" fill="#111" font-weight="normal">1500</text>
<text transform="translate(294.30 340.30) rotate(-45) scale(1 1.1)" font-size="7.2" text-anchor="end" fill="#111" font-weight="normal">Day 0</text>
<text transform="translate(308.90 340.30) rotate(-45) scale(1 1.1)" font-size="7.2" text-anchor="end" fill="#111" font-weight="normal">Day 7</text>
<text transform="translate(323.50 340.30) rotate(-45) scale(1 1.1)" font-size="7.2" text-anchor="end" fill="#111" font-weight="normal">Day 11</text>
<text transform="translate(338.10 340.30) rotate(-45) scale(1 1.1)" font-size="7.2" text-anchor="end" fill="#111" font-weight="normal">Day 14</text>
<text transform="translate(352.70 340.30) rotate(-45) scale(1 1.1)" font-size="7.2" text-anchor="end" fill="#111" font-weight="normal">Day 18</text>
<text transform="translate(367.30 340.30) rotate(-45) scale(1 1.1)" font-size="7.2" text-anchor="end" fill="#111" font-weight="normal">Day 21</text>
<text transform="translate(381.90 340.30) rotate(-45) scale(1 1.1)" font-size="7.2" text-anchor="end" fill="#111" font-weight="normal">Day 25</text>
<text transform="translate(396.50 340.30) rotate(-45) scale(1 1.1)" font-size="7.2" text-anchor="end" fill="#111" font-weight="normal">Day 28</text>
<text transform="translate(411.10 340.30) rotate(-45) scale(1 1.1)" font-size="7.2" text-anchor="end" fill="#111" font-weight="normal">Day 32</text>
<text transform="translate(425.70 340.30) rotate(-45) scale(1 1.1)" font-size="7.2" text-anchor="end" fill="#111" font-weight="normal">Day 33</text>
<text transform="translate(357.20 366.30) scale(1 1.1)" font-size="7.0" text-anchor="middle" fill="#111" font-weight="normal">Days post tumor rechallenge</text>
<text transform="translate(258.00 279.30) rotate(-90) scale(1 1.1)" font-size="7.9" text-anchor="middle" fill="#111" font-weight="normal">Tumor volume (mm<tspan dy="-3.2" font-size="5.4">3</tspan><tspan dy="3.2">)</tspan></text>
<line x1="394.00" y1="274.60" x2="394.00" y2="284.10" stroke="#ff40ff" stroke-width="0.8"/>
<line x1="392.00" y1="274.60" x2="396.00" y2="274.60" stroke="#ff40ff" stroke-width="0.8"/>
<line x1="392.00" y1="284.10" x2="396.00" y2="284.10" stroke="#ff40ff" stroke-width="0.8"/>
<line x1="408.60" y1="255.60" x2="408.60" y2="267.30" stroke="#ff40ff" stroke-width="0.8"/>
<line x1="406.60" y1="255.60" x2="410.60" y2="255.60" stroke="#ff40ff" stroke-width="0.8"/>
<line x1="406.60" y1="267.30" x2="410.60" y2="267.30" stroke="#ff40ff" stroke-width="0.8"/>
<line x1="423.20" y1="243.80" x2="423.20" y2="259.90" stroke="#ff40ff" stroke-width="0.8"/>
<line x1="421.20" y1="243.80" x2="425.20" y2="243.80" stroke="#ff40ff" stroke-width="0.8"/>
<line x1="421.20" y1="259.90" x2="425.20" y2="259.90" stroke="#ff40ff" stroke-width="0.8"/>
<line x1="394.00" y1="285.90" x2="394.00" y2="296.20" stroke="#ff9a40" stroke-width="0.8"/>
<line x1="392.00" y1="285.90" x2="396.00" y2="285.90" stroke="#ff9a40" stroke-width="0.8"/>
<line x1="392.00" y1="296.20" x2="396.00" y2="296.20" stroke="#ff9a40" stroke-width="0.8"/>
<line x1="408.60" y1="267.00" x2="408.60" y2="281.00" stroke="#ff9a40" stroke-width="0.8"/>
<line x1="406.60" y1="267.00" x2="410.60" y2="267.00" stroke="#ff9a40" stroke-width="0.8"/>
<line x1="406.60" y1="281.00" x2="410.60" y2="281.00" stroke="#ff9a40" stroke-width="0.8"/>
<line x1="423.20" y1="266.30" x2="423.20" y2="280.70" stroke="#ff9a40" stroke-width="0.8"/>
<line x1="421.20" y1="266.30" x2="425.20" y2="266.30" stroke="#ff9a40" stroke-width="0.8"/>
<line x1="421.20" y1="280.70" x2="425.20" y2="280.70" stroke="#ff9a40" stroke-width="0.8"/>
<line x1="423.20" y1="271.20" x2="423.20" y2="278.60" stroke="#222" stroke-width="0.8"/>
<line x1="421.20" y1="271.20" x2="425.20" y2="271.20" stroke="#222" stroke-width="0.8"/>
<line x1="421.20" y1="278.60" x2="425.20" y2="278.60" stroke="#222" stroke-width="0.8"/>
<line x1="408.60" y1="278.50" x2="408.60" y2="284.00" stroke="#222" stroke-width="0.8"/>
<line x1="406.60" y1="278.50" x2="410.60" y2="278.50" stroke="#222" stroke-width="0.8"/>
<line x1="406.60" y1="284.00" x2="410.60" y2="284.00" stroke="#222" stroke-width="0.8"/>
<polyline points="291.80,330.00 306.40,328.00 321.00,325.50 335.60,324.40 350.20,320.90 364.80,317.00 379.40,307.50 394.00,295.70 408.60,281.20 423.20,274.60" fill="none" stroke="#000" stroke-width="1.0" stroke-linejoin="round"/>
<polyline points="291.80,330.00 306.40,327.10 321.00,321.60 335.60,320.40 350.20,314.30 364.80,310.10 379.40,300.20 394.00,291.10 408.60,274.30 423.20,273.70" fill="none" stroke="#ff8a1c" stroke-width="1.15" stroke-linejoin="round"/>
<polyline points="291.80,330.00 306.40,329.00 321.00,324.60 335.60,322.70 350.20,317.30 364.80,310.70 379.40,298.00 394.00,279.50 408.60,261.30 423.20,252.10" fill="none" stroke="#ff1cff" stroke-width="1.15" stroke-linejoin="round"/>
<circle cx="291.80" cy="330.00" r="1.1" fill="#000" stroke="none" stroke-width="0"/>
<circle cx="306.40" cy="328.00" r="1.1" fill="#000" stroke="none" stroke-width="0"/>
<circle cx="321.00" cy="325.50" r="1.1" fill="#000" stroke="none" stroke-width="0"/>
<circle cx="335.60" cy="324.40" r="1.1" fill="#000" stroke="none" stroke-width="0"/>
<circle cx="350.20" cy="320.90" r="1.1" fill="#000" stroke="none" stroke-width="0"/>
<circle cx="364.80" cy="317.00" r="1.1" fill="#000" stroke="none" stroke-width="0"/>
<circle cx="379.40" cy="307.50" r="1.1" fill="#000" stroke="none" stroke-width="0"/>
<circle cx="394.00" cy="295.70" r="1.1" fill="#000" stroke="none" stroke-width="0"/>
<circle cx="408.60" cy="281.20" r="1.1" fill="#000" stroke="none" stroke-width="0"/>
<circle cx="423.20" cy="274.60" r="1.1" fill="#000" stroke="none" stroke-width="0"/>
<polygon points="291.80,327.70 294.10,330.00 291.80,332.30 289.50,330.00" fill="#ff8a1c"/>
<polygon points="306.40,324.80 308.70,327.10 306.40,329.40 304.10,327.10" fill="#ff8a1c"/>
<polygon points="321.00,319.30 323.30,321.60 321.00,323.90 318.70,321.60" fill="#ff8a1c"/>
<polygon points="335.60,318.10 337.90,320.40 335.60,322.70 333.30,320.40" fill="#ff8a1c"/>
<polygon points="350.20,312.00 352.50,314.30 350.20,316.60 347.90,314.30" fill="#ff8a1c"/>
<polygon points="364.80,307.80 367.10,310.10 364.80,312.40 362.50,310.10" fill="#ff8a1c"/>
<polygon points="379.40,297.90 381.70,300.20 379.40,302.50 377.10,300.20" fill="#ff8a1c"/>
<polygon points="394.00,288.80 396.30,291.10 394.00,293.40 391.70,291.10" fill="#ff8a1c"/>
<polygon points="408.60,272.00 410.90,274.30 408.60,276.60 406.30,274.30" fill="#ff8a1c"/>
<polygon points="423.20,271.40 425.50,273.70 423.20,276.00 420.90,273.70" fill="#ff8a1c"/>
<circle cx="291.80" cy="330.00" r="2.1" fill="#ff1cff" stroke="none" stroke-width="0"/>
<circle cx="306.40" cy="329.00" r="2.1" fill="#ff1cff" stroke="none" stroke-width="0"/>
<circle cx="321.00" cy="324.60" r="2.1" fill="#ff1cff" stroke="none" stroke-width="0"/>
<circle cx="335.60" cy="322.70" r="2.1" fill="#ff1cff" stroke="none" stroke-width="0"/>
<circle cx="350.20" cy="317.30" r="2.1" fill="#ff1cff" stroke="none" stroke-width="0"/>
<circle cx="364.80" cy="310.70" r="2.1" fill="#ff1cff" stroke="none" stroke-width="0"/>
<circle cx="379.40" cy="298.00" r="2.1" fill="#ff1cff" stroke="none" stroke-width="0"/>
<circle cx="394.00" cy="279.50" r="2.1" fill="#ff1cff" stroke="none" stroke-width="0"/>
<circle cx="408.60" cy="261.30" r="2.1" fill="#ff1cff" stroke="none" stroke-width="0"/>
<circle cx="423.20" cy="252.10" r="2.1" fill="#ff1cff" stroke="none" stroke-width="0"/>
<line x1="291.80" y1="330.00" x2="423.20" y2="330.00" stroke="#48ccf0" stroke-width="1.5"/>
<line x1="291.80" y1="330.00" x2="291.80" y2="334.20" stroke="#222" stroke-width="0.9"/>
<line x1="306.40" y1="330.00" x2="306.40" y2="334.20" stroke="#222" stroke-width="0.9"/>
<line x1="321.00" y1="330.00" x2="321.00" y2="334.20" stroke="#222" stroke-width="0.9"/>
<line x1="335.60" y1="330.00" x2="335.60" y2="334.20" stroke="#222" stroke-width="0.9"/>
<line x1="350.20" y1="330.00" x2="350.20" y2="334.20" stroke="#222" stroke-width="0.9"/>
<line x1="364.80" y1="330.00" x2="364.80" y2="334.20" stroke="#222" stroke-width="0.9"/>
<line x1="379.40" y1="330.00" x2="379.40" y2="334.20" stroke="#222" stroke-width="0.9"/>
<line x1="394.00" y1="330.00" x2="394.00" y2="334.20" stroke="#222" stroke-width="0.9"/>
<line x1="408.60" y1="330.00" x2="408.60" y2="334.20" stroke="#222" stroke-width="0.9"/>
<line x1="423.20" y1="330.00" x2="423.20" y2="334.20" stroke="#222" stroke-width="0.9"/>
<rect x="289.10" y="327.30" width="5.4" height="5.4" fill="#80208a"/>
<polygon points="289.40,331.80 294.20,331.80 291.80,327.40" fill="#30e0f0"/>
<rect x="303.70" y="327.30" width="5.4" height="5.4" fill="#80208a"/>
<polygon points="304.00,331.80 308.80,331.80 306.40,327.40" fill="#30e0f0"/>
<rect x="318.30" y="327.30" width="5.4" height="5.4" fill="#80208a"/>
<polygon points="318.60,331.80 323.40,331.80 321.00,327.40" fill="#30e0f0"/>
<rect x="332.90" y="327.30" width="5.4" height="5.4" fill="#80208a"/>
<polygon points="333.20,331.80 338.00,331.80 335.60,327.40" fill="#30e0f0"/>
<rect x="347.50" y="327.30" width="5.4" height="5.4" fill="#80208a"/>
<polygon points="347.80,331.80 352.60,331.80 350.20,327.40" fill="#30e0f0"/>
<rect x="362.10" y="327.30" width="5.4" height="5.4" fill="#80208a"/>
<polygon points="362.40,331.80 367.20,331.80 364.80,327.40" fill="#30e0f0"/>
<rect x="376.70" y="327.30" width="5.4" height="5.4" fill="#80208a"/>
<polygon points="377.00,331.80 381.80,331.80 379.40,327.40" fill="#30e0f0"/>
<rect x="391.30" y="327.30" width="5.4" height="5.4" fill="#80208a"/>
<polygon points="391.60,331.80 396.40,331.80 394.00,327.40" fill="#30e0f0"/>
<rect x="405.90" y="327.30" width="5.4" height="5.4" fill="#80208a"/>
<polygon points="406.20,331.80 411.00,331.80 408.60,327.40" fill="#30e0f0"/>
<rect x="420.50" y="327.30" width="5.4" height="5.4" fill="#80208a"/>
<polygon points="420.80,331.80 425.60,331.80 423.20,327.40" fill="#30e0f0"/>
<line x1="294.80" y1="233.80" x2="305.90" y2="233.80" stroke="#000" stroke-width="1.2"/>
<circle cx="300.30" cy="233.80" r="1.0" fill="#000" stroke="none" stroke-width="0"/>
<text transform="translate(311.90 236.80) scale(1 1.1)" font-size="8.4" text-anchor="start" fill="#111" font-weight="normal">Naive</text>
<line x1="294.80" y1="243.80" x2="305.90" y2="243.80" stroke="#760a80" stroke-width="1.2"/>
<rect x="297.50" y="241.00" width="5.6" height="5.6" fill="#760a80"/>
<text transform="translate(311.90 246.80) scale(1 1.1)" font-size="8.4" text-anchor="start" fill="#111" font-weight="normal">Cured</text>
<line x1="294.80" y1="254.90" x2="305.90" y2="254.90" stroke="#30f0ff" stroke-width="1.2"/>
<polygon points="297.90,256.50 302.70,256.50 300.30,252.50" fill="#30f0ff"/>
<text transform="translate(311.90 257.90) scale(1 1.1)" font-size="8.4" text-anchor="start" fill="#111" font-weight="normal">Cured + αCD8</text>
<line x1="294.80" y1="265.00" x2="305.90" y2="265.00" stroke="#ff8a24" stroke-width="1.2"/>
<polygon points="300.30,263.00 302.30,265.00 300.30,267.00 298.30,265.00" fill="#ff8a24"/>
<text transform="translate(311.90 268.00) scale(1 1.1)" font-size="8.4" text-anchor="start" fill="#111" font-weight="normal">Cured + αCD4</text>
<line x1="294.80" y1="276.50" x2="305.90" y2="276.50" stroke="#ff10ff" stroke-width="1.2"/>
<circle cx="300.30" cy="276.50" r="1.8" fill="#ff10ff" stroke="none" stroke-width="0"/>
<text transform="translate(311.90 279.50) scale(1 1.1)" font-size="8.4" text-anchor="start" fill="#111" font-weight="normal">Cured + αCD4/8</text>
<line x1="292.30" y1="263.80" x2="292.30" y2="277.60" stroke="#111" stroke-width="0.9"/>
<path d="M288.10,263.40L288.10,266.10M286.93,264.07L289.27,265.43M289.27,264.07L286.93,265.43" stroke="#111" stroke-width="0.75" fill="none"/>
<path d="M288.10,267.30L288.10,270.00M286.93,267.97L289.27,269.32M289.27,267.97L286.93,269.32" stroke="#111" stroke-width="0.75" fill="none"/>
<path d="M288.10,271.20L288.10,273.90M286.93,271.88L289.27,273.23M289.27,271.88L286.93,273.23" stroke="#111" stroke-width="0.75" fill="none"/>
<path d="M288.10,275.10L288.10,277.80M286.93,275.77L289.27,277.12M289.27,275.77L286.93,277.12" stroke="#111" stroke-width="0.75" fill="none"/>
<line x1="336.30" y1="232.20" x2="336.30" y2="246.50" stroke="#111" stroke-width="0.9"/>
<path d="M339.60,231.20L339.60,233.90M338.43,231.88L340.77,233.23M340.77,231.88L338.43,233.23" stroke="#111" stroke-width="0.75" fill="none"/>
<path d="M339.60,235.10L339.60,237.80M338.43,235.78L340.77,237.13M340.77,235.78L338.43,237.13" stroke="#111" stroke-width="0.75" fill="none"/>
<path d="M339.60,239.00L339.60,241.70M338.43,239.68L340.77,241.03M340.77,239.68L338.43,241.03" stroke="#111" stroke-width="0.75" fill="none"/>
<path d="M339.60,242.90L339.60,245.60M338.43,243.57L340.77,244.93M340.77,243.57L338.43,244.93" stroke="#111" stroke-width="0.75" fill="none"/>
<line x1="350.20" y1="243.20" x2="385.70" y2="243.20" stroke="#111" stroke-width="0.9"/>
<line x1="385.70" y1="243.20" x2="385.70" y2="263.50" stroke="#111" stroke-width="0.9"/>
<line x1="379.80" y1="263.50" x2="385.70" y2="263.50" stroke="#111" stroke-width="0.9"/>
<line x1="368.60" y1="232.70" x2="368.60" y2="251.10" stroke="#111" stroke-width="0.9"/>
<path d="M371.10,236.20L371.10,238.90M369.93,236.88L372.27,238.23M372.27,236.88L369.93,238.23" stroke="#111" stroke-width="0.75" fill="none"/>
<path d="M371.10,240.10L371.10,242.80M369.93,240.78L372.27,242.13M372.27,240.78L369.93,242.13" stroke="#111" stroke-width="0.75" fill="none"/>
<path d="M371.10,244.00L371.10,246.70M369.93,244.68L372.27,246.03M372.27,244.68L369.93,246.03" stroke="#111" stroke-width="0.75" fill="none"/>
<path d="M371.10,247.90L371.10,250.60M369.93,248.57L372.27,249.93M372.27,248.57L369.93,249.93" stroke="#111" stroke-width="0.75" fill="none"/>
<line x1="366.30" y1="252.40" x2="366.30" y2="266.90" stroke="#111" stroke-width="0.9"/>
<path d="M369.30,252.60L369.30,255.30M368.13,253.28L370.47,254.63M370.47,253.28L368.13,254.63" stroke="#111" stroke-width="0.75" fill="none"/>
<path d="M369.30,256.50L369.30,259.20M368.13,257.18L370.47,258.53M370.47,257.18L368.13,258.53" stroke="#111" stroke-width="0.75" fill="none"/>
<path d="M369.30,260.40L369.30,263.10M368.13,261.07L370.47,262.43M370.47,261.07L368.13,262.43" stroke="#111" stroke-width="0.75" fill="none"/>
<path d="M369.30,264.30L369.30,267.00M368.13,264.98L370.47,266.33M370.47,264.98L368.13,266.33" stroke="#111" stroke-width="0.75" fill="none"/>
<line x1="379.80" y1="252.10" x2="379.80" y2="276.10" stroke="#111" stroke-width="0.9"/>
<path d="M376.50,257.40L376.50,260.10M375.33,258.07L377.67,259.43M377.67,258.07L375.33,259.43" stroke="#111" stroke-width="0.75" fill="none"/>
<path d="M376.50,261.30L376.50,264.00M375.33,261.97L377.67,263.32M377.67,261.97L375.33,263.32" stroke="#111" stroke-width="0.75" fill="none"/>
<path d="M376.50,265.20L376.50,267.90M375.33,265.88L377.67,267.23M377.67,265.88L375.33,267.23" stroke="#111" stroke-width="0.75" fill="none"/>
<path d="M376.50,269.10L376.50,271.80M375.33,269.77L377.67,271.12M377.67,269.77L375.33,271.12" stroke="#111" stroke-width="0.75" fill="none"/>
<line x1="389.30" y1="229.60" x2="389.30" y2="275.60" stroke="#111" stroke-width="0.9"/>
<path d="M392.30,239.30L392.30,242.00M391.13,239.97L393.47,241.33M393.47,239.97L391.13,241.33" stroke="#111" stroke-width="0.75" fill="none"/>
<path d="M392.30,243.20L392.30,245.90M391.13,243.88L393.47,245.23M393.47,243.88L391.13,245.23" stroke="#111" stroke-width="0.75" fill="none"/>
<path d="M392.30,247.10L392.30,249.80M391.13,247.78L393.47,249.13M393.47,247.78L391.13,249.13" stroke="#111" stroke-width="0.75" fill="none"/>
<path d="M392.30,251.00L392.30,253.70M391.13,251.67L393.47,253.03M393.47,251.67L391.13,253.03" stroke="#111" stroke-width="0.75" fill="none"/>
<line x1="42.30" y1="415.10" x2="42.30" y2="546.70" stroke="#000" stroke-width="1.4"/>
<line x1="41.60" y1="546.00" x2="238.30" y2="546.00" stroke="#000" stroke-width="1.4"/>
<line x1="36.80" y1="546.00" x2="42.30" y2="546.00" stroke="#000" stroke-width="1.2"/>
<text transform="translate(35.50 549.60) scale(1 1.1)" font-size="10.1" text-anchor="end" fill="#111" font-weight="normal">0</text>
<line x1="36.80" y1="513.42" x2="42.30" y2="513.42" stroke="#000" stroke-width="1.2"/>
<text transform="translate(35.50 517.02) scale(1 1.1)" font-size="10.1" text-anchor="end" fill="#111" font-weight="normal">200</text>
<line x1="36.80" y1="480.85" x2="42.30" y2="480.85" stroke="#000" stroke-width="1.2"/>
<text transform="translate(35.50 484.45) scale(1 1.1)" font-size="10.1" text-anchor="end" fill="#111" font-weight="normal">400</text>
<line x1="36.80" y1="448.27" x2="42.30" y2="448.27" stroke="#000" stroke-width="1.2"/>
<text transform="translate(35.50 451.88) scale(1 1.1)" font-size="10.1" text-anchor="end" fill="#111" font-weight="normal">600</text>
<line x1="36.80" y1="415.70" x2="42.30" y2="415.70" stroke="#000" stroke-width="1.2"/>
<text transform="translate(35.50 419.30) scale(1 1.1)" font-size="10.1" text-anchor="end" fill="#111" font-weight="normal">800</text>
<line x1="42.30" y1="546.00" x2="42.30" y2="551.00" stroke="#000" stroke-width="1.2"/>
<text transform="translate(42.30 561.30) scale(1 1.1)" font-size="9.4" text-anchor="middle" fill="#111" font-weight="normal">0</text>
<line x1="91.30" y1="546.00" x2="91.30" y2="551.00" stroke="#000" stroke-width="1.2"/>
<text transform="translate(91.30 561.30) scale(1 1.1)" font-size="9.4" text-anchor="middle" fill="#111" font-weight="normal">10</text>
<line x1="140.30" y1="546.00" x2="140.30" y2="551.00" stroke="#000" stroke-width="1.2"/>
<text transform="translate(140.30 561.30) scale(1 1.1)" font-size="9.4" text-anchor="middle" fill="#111" font-weight="normal">20</text>
<line x1="189.30" y1="546.00" x2="189.30" y2="551.00" stroke="#000" stroke-width="1.2"/>
<text transform="translate(189.30 561.30) scale(1 1.1)" font-size="9.4" text-anchor="middle" fill="#111" font-weight="normal">30</text>
<line x1="238.30" y1="546.00" x2="238.30" y2="551.00" stroke="#000" stroke-width="1.2"/>
<text transform="translate(238.30 561.30) scale(1 1.1)" font-size="9.4" text-anchor="middle" fill="#111" font-weight="normal">40</text>
<text transform="translate(140.40 575.60) scale(1 1.1)" font-size="9.0" text-anchor="middle" fill="#111" font-weight="normal">Days post implantation</text>
<text transform="translate(13.40 478.70) rotate(-90) scale(1 1.1)" font-size="10.4" text-anchor="middle" fill="#111" font-weight="normal">Tumor volume ( mm<tspan dy="-4.4" font-size="6.8">3</tspan><tspan dy="4.4"> )</tspan></text>
<line x1="194.20" y1="437.69" x2="194.20" y2="470.26" stroke="#222" stroke-width="1.0"/>
<line x1="191.60" y1="437.69" x2="196.80" y2="437.69" stroke="#222" stroke-width="1.0"/>
<line x1="191.60" y1="470.26" x2="196.80" y2="470.26" stroke="#222" stroke-width="1.0"/>
<line x1="204.00" y1="430.36" x2="204.00" y2="461.31" stroke="#222" stroke-width="1.0"/>
<line x1="201.40" y1="430.36" x2="206.60" y2="430.36" stroke="#222" stroke-width="1.0"/>
<line x1="201.40" y1="461.31" x2="206.60" y2="461.31" stroke="#222" stroke-width="1.0"/>
<line x1="159.90" y1="506.10" x2="159.90" y2="517.50" stroke="#222" stroke-width="1.0"/>
<line x1="157.30" y1="506.10" x2="162.50" y2="506.10" stroke="#222" stroke-width="1.0"/>
<line x1="157.30" y1="517.50" x2="162.50" y2="517.50" stroke="#222" stroke-width="1.0"/>
<line x1="125.60" y1="527.27" x2="125.60" y2="532.97" stroke="#222" stroke-width="1.0"/>
<line x1="123.00" y1="527.27" x2="128.20" y2="527.27" stroke="#222" stroke-width="1.0"/>
<line x1="123.00" y1="532.97" x2="128.20" y2="532.97" stroke="#222" stroke-width="1.0"/>
<line x1="140.30" y1="524.01" x2="140.30" y2="528.90" stroke="#222" stroke-width="1.0"/>
<line x1="137.70" y1="524.01" x2="142.90" y2="524.01" stroke="#222" stroke-width="1.0"/>
<line x1="137.70" y1="528.90" x2="142.90" y2="528.90" stroke="#222" stroke-width="1.0"/>
<line x1="194.20" y1="499.58" x2="194.20" y2="515.05" stroke="#1e50f4" stroke-width="1.0"/>
<line x1="191.60" y1="499.58" x2="196.80" y2="499.58" stroke="#1e50f4" stroke-width="1.0"/>
<line x1="191.60" y1="515.05" x2="196.80" y2="515.05" stroke="#1e50f4" stroke-width="1.0"/>
<line x1="204.00" y1="488.99" x2="204.00" y2="509.35" stroke="#1e50f4" stroke-width="1.0"/>
<line x1="201.40" y1="488.99" x2="206.60" y2="488.99" stroke="#1e50f4" stroke-width="1.0"/>
<line x1="201.40" y1="509.35" x2="206.60" y2="509.35" stroke="#1e50f4" stroke-width="1.0"/>
<line x1="159.90" y1="519.94" x2="159.90" y2="530.53" stroke="#1e50f4" stroke-width="1.0"/>
<line x1="157.30" y1="519.94" x2="162.50" y2="519.94" stroke="#1e50f4" stroke-width="1.0"/>
<line x1="157.30" y1="530.53" x2="162.50" y2="530.53" stroke="#1e50f4" stroke-width="1.0"/>
<line x1="194.20" y1="500.39" x2="194.20" y2="520.75" stroke="#18ea18" stroke-width="1.0"/>
<line x1="191.60" y1="500.39" x2="196.80" y2="500.39" stroke="#18ea18" stroke-width="1.0"/>
<line x1="191.60" y1="520.75" x2="196.80" y2="520.75" stroke="#18ea18" stroke-width="1.0"/>
<line x1="204.00" y1="489.81" x2="204.00" y2="512.61" stroke="#18ea18" stroke-width="1.0"/>
<line x1="201.40" y1="489.81" x2="206.60" y2="489.81" stroke="#18ea18" stroke-width="1.0"/>
<line x1="201.40" y1="512.61" x2="206.60" y2="512.61" stroke="#18ea18" stroke-width="1.0"/>
<line x1="159.90" y1="521.57" x2="159.90" y2="531.34" stroke="#18ea18" stroke-width="1.0"/>
<line x1="157.30" y1="521.57" x2="162.50" y2="521.57" stroke="#18ea18" stroke-width="1.0"/>
<line x1="157.30" y1="531.34" x2="162.50" y2="531.34" stroke="#18ea18" stroke-width="1.0"/>
<polyline points="42.30,546.00 76.60,541.93 91.30,539.16 106.00,536.72 125.60,532.64 140.30,531.34 159.90,526.46 194.20,510.17 204.00,500.07" fill="none" stroke="#18ea18" stroke-width="1.1" stroke-linejoin="round"/>
<polyline points="42.30,546.00 76.60,543.56 91.30,540.30 106.00,537.37 125.60,533.30 140.30,532.32 159.90,525.31 194.20,506.91 204.00,498.77" fill="none" stroke="#1e50f4" stroke-width="1.1" stroke-linejoin="round"/>
<polyline points="42.30,546.00 76.60,542.74 91.30,541.44 106.00,537.04 125.60,530.20 140.30,526.46 159.90,512.12 194.20,453.65 204.00,445.51" fill="none" stroke="#111" stroke-width="1.1" stroke-linejoin="round"/>
<circle cx="42.30" cy="546.00" r="2.9" fill="#18ea18" stroke="none" stroke-width="0"/>
<circle cx="76.60" cy="541.93" r="2.9" fill="#18ea18" stroke="none" stroke-width="0"/>
<circle cx="91.30" cy="539.16" r="2.9" fill="#18ea18" stroke="none" stroke-width="0"/>
<circle cx="106.00" cy="536.72" r="2.9" fill="#18ea18" stroke="none" stroke-width="0"/>
<circle cx="125.60" cy="532.64" r="2.9" fill="#18ea18" stroke="none" stroke-width="0"/>
<circle cx="140.30" cy="531.34" r="2.9" fill="#18ea18" stroke="none" stroke-width="0"/>
<circle cx="159.90" cy="526.46" r="2.9" fill="#18ea18" stroke="none" stroke-width="0"/>
<circle cx="194.20" cy="510.17" r="2.9" fill="#18ea18" stroke="none" stroke-width="0"/>
<circle cx="204.00" cy="500.07" r="2.9" fill="#18ea18" stroke="none" stroke-width="0"/>
<rect x="39.60" y="543.30" width="5.4" height="5.4" fill="#3060ff"/>
<rect x="73.90" y="540.86" width="5.4" height="5.4" fill="#3060ff"/>
<rect x="88.60" y="537.60" width="5.4" height="5.4" fill="#3060ff"/>
<rect x="103.30" y="534.67" width="5.4" height="5.4" fill="#3060ff"/>
<rect x="122.90" y="530.60" width="5.4" height="5.4" fill="#3060ff"/>
<rect x="137.60" y="529.62" width="5.4" height="5.4" fill="#3060ff"/>
<rect x="157.20" y="522.61" width="5.4" height="5.4" fill="#3060ff"/>
<rect x="191.50" y="504.21" width="5.4" height="5.4" fill="#3060ff"/>
<rect x="201.30" y="496.07" width="5.4" height="5.4" fill="#3060ff"/>
<circle cx="42.30" cy="546.00" r="3.1" fill="#000" stroke="none" stroke-width="0"/>
<circle cx="76.60" cy="542.74" r="3.1" fill="#000" stroke="none" stroke-width="0"/>
<circle cx="91.30" cy="541.44" r="3.1" fill="#000" stroke="none" stroke-width="0"/>
<circle cx="106.00" cy="537.04" r="3.1" fill="#000" stroke="none" stroke-width="0"/>
<circle cx="125.60" cy="530.20" r="3.1" fill="#000" stroke="none" stroke-width="0"/>
<circle cx="140.30" cy="526.46" r="3.1" fill="#000" stroke="none" stroke-width="0"/>
<circle cx="159.90" cy="512.12" r="3.1" fill="#000" stroke="none" stroke-width="0"/>
<circle cx="194.20" cy="453.65" r="3.1" fill="#000" stroke="none" stroke-width="0"/>
<circle cx="204.00" cy="445.51" r="3.1" fill="#000" stroke="none" stroke-width="0"/>
<line x1="60.30" y1="425.30" x2="74.00" y2="425.30" stroke="#000" stroke-width="1.1"/>
<circle cx="67.10" cy="425.30" r="2.9" fill="#000" stroke="none" stroke-width="0"/>
<text transform="translate(82.10 428.90)" font-size="10.0" text-anchor="start" fill="#111" font-weight="normal">Control IT</text>
<line x1="60.30" y1="439.60" x2="74.00" y2="439.60" stroke="#1848f0" stroke-width="1.1"/>
<rect x="64.30" y="436.80" width="5.6" height="5.6" fill="#1848f0"/>
<text transform="translate(82.10 443.20)" font-size="10.0" text-anchor="start" fill="#111" font-weight="normal">CD40 IT</text>
<line x1="60.30" y1="455.50" x2="74.00" y2="455.50" stroke="#10ee10" stroke-width="1.1"/>
<circle cx="67.10" cy="455.50" r="2.9" fill="#10ee10" stroke="none" stroke-width="0"/>
<text transform="translate(82.10 459.10)" font-size="10.0" text-anchor="start" fill="#111" font-weight="normal">CD40 IT Distant</text>
<path d="M136.2,422.9 H143.3 V443.2 H136.2" fill="none" stroke="#111" stroke-width="1.3"/>
<path d="M150.60,430.80L150.60,436.80M148.00,432.30L153.20,435.30M153.20,432.30L148.00,435.30" stroke="#111" stroke-width="1.15" fill="none"/>
<path d="M158.70,430.80L158.70,436.80M156.10,432.30L161.30,435.30M161.30,432.30L156.10,435.30" stroke="#111" stroke-width="1.15" fill="none"/>
<path d="M165.1,420.2 H171.2 V457.9 H165.1" fill="none" stroke="#111" stroke-width="1.3"/>
<path d="M179.70,437.20L179.70,443.20M177.10,438.70L182.30,441.70M182.30,438.70L177.10,441.70" stroke="#111" stroke-width="1.15" fill="none"/>
<line x1="315.30" y1="424.80" x2="315.30" y2="548.50" stroke="#111" stroke-width="1.35"/>
<line x1="314.60" y1="547.80" x2="499.70" y2="547.80" stroke="#111" stroke-width="1.35"/>
<line x1="310.10" y1="547.80" x2="315.30" y2="547.80" stroke="#111" stroke-width="1.2"/>
<text transform="translate(308.80 551.10) scale(1 1.1)" font-size="9.3" text-anchor="end" fill="#111" font-weight="normal">0</text>
<line x1="310.10" y1="517.17" x2="315.30" y2="517.17" stroke="#111" stroke-width="1.2"/>
<text transform="translate(308.80 520.47) scale(1 1.1)" font-size="9.3" text-anchor="end" fill="#111" font-weight="normal">100</text>
<line x1="310.10" y1="486.55" x2="315.30" y2="486.55" stroke="#111" stroke-width="1.2"/>
<text transform="translate(308.80 489.85) scale(1 1.1)" font-size="9.3" text-anchor="end" fill="#111" font-weight="normal">200</text>
<line x1="310.10" y1="455.93" x2="315.30" y2="455.93" stroke="#111" stroke-width="1.2"/>
<text transform="translate(308.80 459.23) scale(1 1.1)" font-size="9.3" text-anchor="end" fill="#111" font-weight="normal">300</text>
<line x1="310.10" y1="425.30" x2="315.30" y2="425.30" stroke="#111" stroke-width="1.2"/>
<text transform="translate(308.80 428.60) scale(1 1.1)" font-size="9.3" text-anchor="end" fill="#111" font-weight="normal">400</text>
<line x1="315.30" y1="547.80" x2="315.30" y2="552.40" stroke="#111" stroke-width="1.2"/>
<text transform="translate(315.30 562.80) scale(1 1.1)" font-size="9.3" text-anchor="middle" fill="#111" font-weight="normal">0</text>
<line x1="361.40" y1="547.80" x2="361.40" y2="552.40" stroke="#111" stroke-width="1.2"/>
<text transform="translate(361.40 562.80) scale(1 1.1)" font-size="9.3" text-anchor="middle" fill="#111" font-weight="normal">10</text>
<line x1="407.50" y1="547.80" x2="407.50" y2="552.40" stroke="#111" stroke-width="1.2"/>
<text transform="translate(407.50 562.80) scale(1 1.1)" font-size="9.3" text-anchor="middle" fill="#111" font-weight="normal">20</text>
<line x1="453.60" y1="547.80" x2="453.60" y2="552.40" stroke="#111" stroke-width="1.2"/>
<text transform="translate(453.60 562.80) scale(1 1.1)" font-size="9.3" text-anchor="middle" fill="#111" font-weight="normal">30</text>
<line x1="499.70" y1="547.80" x2="499.70" y2="552.40" stroke="#111" stroke-width="1.2"/>
<text transform="translate(499.70 562.80) scale(1 1.1)" font-size="9.3" text-anchor="middle" fill="#111" font-weight="normal">40</text>
<text transform="translate(407.20 575.70) scale(1 1.1)" font-size="8.4" text-anchor="middle" fill="#111" font-weight="normal">Days post implantation</text>
<text transform="translate(288.10 486.60) rotate(-90) scale(1 1.1)" font-size="9.5" text-anchor="middle" fill="#111" font-weight="normal">Tumor volume ( mm<tspan dy="-4" font-size="6.2">3</tspan><tspan dy="4"> )</tspan></text>
<line x1="389.06" y1="530.04" x2="389.06" y2="536.16" stroke="#ff9494" stroke-width="0.8"/>
<line x1="386.86" y1="530.04" x2="391.26" y2="530.04" stroke="#ff9494" stroke-width="0.8"/>
<line x1="386.86" y1="536.16" x2="391.26" y2="536.16" stroke="#ff9494" stroke-width="0.8"/>
<line x1="407.50" y1="520.85" x2="407.50" y2="530.96" stroke="#ff9494" stroke-width="0.8"/>
<line x1="405.30" y1="520.85" x2="409.70" y2="520.85" stroke="#ff9494" stroke-width="0.8"/>
<line x1="405.30" y1="530.96" x2="409.70" y2="530.96" stroke="#ff9494" stroke-width="0.8"/>
<line x1="425.94" y1="492.98" x2="425.94" y2="526.06" stroke="#ff9494" stroke-width="0.8"/>
<line x1="423.74" y1="492.98" x2="428.14" y2="492.98" stroke="#ff9494" stroke-width="0.8"/>
<line x1="423.74" y1="526.06" x2="428.14" y2="526.06" stroke="#ff9494" stroke-width="0.8"/>
<line x1="439.77" y1="470.62" x2="439.77" y2="518.71" stroke="#ff9494" stroke-width="0.8"/>
<line x1="437.57" y1="470.62" x2="441.97" y2="470.62" stroke="#ff9494" stroke-width="0.8"/>
<line x1="437.57" y1="518.71" x2="441.97" y2="518.71" stroke="#ff9494" stroke-width="0.8"/>
<line x1="453.60" y1="472.77" x2="453.60" y2="507.99" stroke="#ff9494" stroke-width="0.8"/>
<line x1="451.40" y1="472.77" x2="455.80" y2="472.77" stroke="#ff9494" stroke-width="0.8"/>
<line x1="451.40" y1="507.99" x2="455.80" y2="507.99" stroke="#ff9494" stroke-width="0.8"/>
<line x1="389.06" y1="514.72" x2="389.06" y2="522.69" stroke="#222" stroke-width="0.8"/>
<line x1="386.86" y1="514.72" x2="391.26" y2="514.72" stroke="#222" stroke-width="0.8"/>
<line x1="386.86" y1="522.69" x2="391.26" y2="522.69" stroke="#222" stroke-width="0.8"/>
<line x1="407.50" y1="503.70" x2="407.50" y2="518.09" stroke="#222" stroke-width="0.8"/>
<line x1="405.30" y1="503.70" x2="409.70" y2="503.70" stroke="#222" stroke-width="0.8"/>
<line x1="405.30" y1="518.09" x2="409.70" y2="518.09" stroke="#222" stroke-width="0.8"/>
<line x1="425.94" y1="503.70" x2="425.94" y2="513.19" stroke="#222" stroke-width="0.8"/>
<line x1="423.74" y1="503.70" x2="428.14" y2="503.70" stroke="#222" stroke-width="0.8"/>
<line x1="423.74" y1="513.19" x2="428.14" y2="513.19" stroke="#222" stroke-width="0.8"/>
<line x1="439.77" y1="476.44" x2="439.77" y2="502.47" stroke="#222" stroke-width="0.8"/>
<line x1="437.57" y1="476.44" x2="441.97" y2="476.44" stroke="#222" stroke-width="0.8"/>
<line x1="437.57" y1="502.47" x2="441.97" y2="502.47" stroke="#222" stroke-width="0.8"/>
<line x1="453.60" y1="446.43" x2="453.60" y2="483.49" stroke="#222" stroke-width="0.8"/>
<line x1="451.40" y1="446.43" x2="455.80" y2="446.43" stroke="#222" stroke-width="0.8"/>
<line x1="451.40" y1="483.49" x2="455.80" y2="483.49" stroke="#222" stroke-width="0.8"/>
<line x1="453.60" y1="538.00" x2="453.60" y2="546.27" stroke="#ffa040" stroke-width="0.8"/>
<line x1="451.40" y1="538.00" x2="455.80" y2="538.00" stroke="#ffa040" stroke-width="0.8"/>
<line x1="451.40" y1="546.27" x2="455.80" y2="546.27" stroke="#ffa040" stroke-width="0.8"/>
<line x1="439.77" y1="539.22" x2="439.77" y2="546.27" stroke="#4080ff" stroke-width="0.8"/>
<line x1="437.57" y1="539.22" x2="441.97" y2="539.22" stroke="#4080ff" stroke-width="0.8"/>
<line x1="437.57" y1="546.27" x2="441.97" y2="546.27" stroke="#4080ff" stroke-width="0.8"/>
<line x1="453.60" y1="541.06" x2="453.60" y2="547.19" stroke="#4080ff" stroke-width="0.8"/>
<line x1="451.40" y1="541.06" x2="455.80" y2="541.06" stroke="#4080ff" stroke-width="0.8"/>
<line x1="451.40" y1="547.19" x2="455.80" y2="547.19" stroke="#4080ff" stroke-width="0.8"/>
<polyline points="315.30,547.80 352.18,540.45 370.62,536.77 389.06,539.22 407.50,544.74 425.94,547.19 439.77,547.49 453.60,547.80" fill="none" stroke="#a06a3a" stroke-width="0.9" stroke-linejoin="round"/>
<polyline points="315.30,547.80 352.18,540.45 370.62,536.16 389.06,538.61 407.50,544.12 425.94,546.57 439.77,545.96 453.60,542.29" fill="none" stroke="#ff9a30" stroke-width="0.9" stroke-linejoin="round"/>
<polyline points="315.30,547.80 352.18,539.84 370.62,534.94 389.06,537.39 407.50,540.45 425.94,543.51 439.77,542.29 453.60,543.51" fill="none" stroke="#30b8f0" stroke-width="0.9" stroke-linejoin="round"/>
<polyline points="315.30,547.80 352.18,540.45 370.62,535.55 389.06,537.08 407.50,542.29 425.94,545.35 439.77,543.51 453.60,544.12" fill="none" stroke="#5a3a9a" stroke-width="0.9" stroke-linejoin="round"/>
<polyline points="315.30,547.80 352.18,540.14 370.62,534.02 389.06,536.16 407.50,541.67 425.94,545.96 439.77,546.27 453.60,547.19" fill="none" stroke="#2050ff" stroke-width="0.9" stroke-linejoin="round"/>
<polyline points="315.30,547.80 352.18,541.67 370.62,537.69 389.06,533.41 407.50,525.14 425.94,508.91 439.77,494.51 453.60,490.22" fill="none" stroke="#ff1010" stroke-width="0.9" stroke-linejoin="round"/>
<polyline points="315.30,547.80 352.18,538.00 370.62,534.32 389.06,517.79 407.50,511.05 425.94,508.60 439.77,489.61 453.60,464.50" fill="none" stroke="#111" stroke-width="0.9" stroke-linejoin="round"/>
<polygon points="313.10,546.30 317.50,546.30 315.30,550.00" fill="#a06a3a"/>
<polygon points="349.98,538.95 354.38,538.95 352.18,542.65" fill="#a06a3a"/>
<polygon points="368.42,535.27 372.82,535.27 370.62,538.98" fill="#a06a3a"/>
<polygon points="386.86,537.72 391.26,537.72 389.06,541.42" fill="#a06a3a"/>
<polygon points="405.30,543.24 409.70,543.24 407.50,546.94" fill="#a06a3a"/>
<polygon points="423.74,545.69 428.14,545.69 425.94,549.39" fill="#a06a3a"/>
<polygon points="437.57,545.99 441.97,545.99 439.77,549.69" fill="#a06a3a"/>
<polygon points="451.40,546.30 455.80,546.30 453.60,550.00" fill="#a06a3a"/>
<polygon points="313.00,549.30 317.60,549.30 315.30,545.50" fill="#ff9a30"/>
<polygon points="349.88,541.95 354.48,541.95 352.18,538.15" fill="#ff9a30"/>
<polygon points="368.32,537.66 372.92,537.66 370.62,533.86" fill="#ff9a30"/>
<polygon points="386.76,540.11 391.36,540.11 389.06,536.31" fill="#ff9a30"/>
<polygon points="405.20,545.62 409.80,545.62 407.50,541.83" fill="#ff9a30"/>
<polygon points="423.64,548.07 428.24,548.07 425.94,544.27" fill="#ff9a30"/>
<polygon points="437.47,547.46 442.07,547.46 439.77,543.66" fill="#ff9a30"/>
<polygon points="451.30,543.79 455.90,543.79 453.60,539.99" fill="#ff9a30"/>
<rect x="312.70" y="545.20" width="5.2" height="5.2" fill="none" stroke="#3070ff" stroke-width="1.1"/>
<rect x="349.58" y="537.24" width="5.2" height="5.2" fill="none" stroke="#3070ff" stroke-width="1.1"/>
<rect x="368.02" y="532.34" width="5.2" height="5.2" fill="none" stroke="#3070ff" stroke-width="1.1"/>
<rect x="386.46" y="534.79" width="5.2" height="5.2" fill="none" stroke="#3070ff" stroke-width="1.1"/>
<rect x="404.90" y="537.85" width="5.2" height="5.2" fill="none" stroke="#3070ff" stroke-width="1.1"/>
<rect x="423.34" y="540.91" width="5.2" height="5.2" fill="none" stroke="#3070ff" stroke-width="1.1"/>
<rect x="437.17" y="539.69" width="5.2" height="5.2" fill="none" stroke="#3070ff" stroke-width="1.1"/>
<rect x="451.00" y="540.91" width="5.2" height="5.2" fill="none" stroke="#3070ff" stroke-width="1.1"/>
<circle cx="315.30" cy="547.80" r="2.2" fill="none" stroke="#4a2a8a" stroke-width="1.0"/>
<circle cx="352.18" cy="540.45" r="2.2" fill="none" stroke="#4a2a8a" stroke-width="1.0"/>
<circle cx="370.62" cy="535.55" r="2.2" fill="none" stroke="#4a2a8a" stroke-width="1.0"/>
<circle cx="389.06" cy="537.08" r="2.2" fill="none" stroke="#4a2a8a" stroke-width="1.0"/>
<circle cx="407.50" cy="542.29" r="2.2" fill="none" stroke="#4a2a8a" stroke-width="1.0"/>
<circle cx="425.94" cy="545.35" r="2.2" fill="none" stroke="#4a2a8a" stroke-width="1.0"/>
<circle cx="439.77" cy="543.51" r="2.2" fill="none" stroke="#4a2a8a" stroke-width="1.0"/>
<circle cx="453.60" cy="544.12" r="2.2" fill="none" stroke="#4a2a8a" stroke-width="1.0"/>
<rect x="312.80" y="545.30" width="5" height="5" fill="#2050ff"/>
<rect x="349.68" y="537.64" width="5" height="5" fill="#2050ff"/>
<rect x="368.12" y="531.52" width="5" height="5" fill="#2050ff"/>
<rect x="386.56" y="533.66" width="5" height="5" fill="#2050ff"/>
<rect x="405.00" y="539.17" width="5" height="5" fill="#2050ff"/>
<rect x="423.44" y="543.46" width="5" height="5" fill="#2050ff"/>
<rect x="437.27" y="543.77" width="5" height="5" fill="#2050ff"/>
<rect x="451.10" y="544.69" width="5" height="5" fill="#2050ff"/>
<polygon points="315.30,545.20 317.90,547.80 315.30,550.40 312.70,547.80" fill="#ff1010"/>
<polygon points="352.18,539.07 354.78,541.67 352.18,544.27 349.58,541.67" fill="#ff1010"/>
<polygon points="370.62,535.09 373.22,537.69 370.62,540.29 368.02,537.69" fill="#ff1010"/>
<polygon points="389.06,530.81 391.66,533.41 389.06,536.01 386.46,533.41" fill="#ff1010"/>
<polygon points="407.50,522.54 410.10,525.14 407.50,527.74 404.90,525.14" fill="#ff1010"/>
<polygon points="425.94,506.31 428.54,508.91 425.94,511.51 423.34,508.91" fill="#ff1010"/>
<polygon points="439.77,491.91 442.37,494.51 439.77,497.11 437.17,494.51" fill="#ff1010"/>
<polygon points="453.60,487.62 456.20,490.22 453.60,492.82 451.00,490.22" fill="#ff1010"/>
<circle cx="315.30" cy="547.80" r="2.7" fill="#000" stroke="none" stroke-width="0"/>
<circle cx="352.18" cy="538.00" r="2.7" fill="#000" stroke="none" stroke-width="0"/>
<circle cx="370.62" cy="534.32" r="2.7" fill="#000" stroke="none" stroke-width="0"/>
<circle cx="389.06" cy="517.79" r="2.7" fill="#000" stroke="none" stroke-width="0"/>
<circle cx="407.50" cy="511.05" r="2.7" fill="#000" stroke="none" stroke-width="0"/>
<circle cx="425.94" cy="508.60" r="2.7" fill="#000" stroke="none" stroke-width="0"/>
<circle cx="439.77" cy="489.61" r="2.7" fill="#000" stroke="none" stroke-width="0"/>
<circle cx="453.60" cy="464.50" r="2.7" fill="#000" stroke="none" stroke-width="0"/>
<line x1="473.70" y1="428.70" x2="486.80" y2="428.70" stroke="#111" stroke-width="1.0"/>
<circle cx="480.10" cy="428.70" r="2.8" fill="#111" stroke="none" stroke-width="0"/>
<text transform="translate(494.50 431.90) scale(1 1.1)" font-size="9.3" text-anchor="start" fill="#111" font-weight="normal">Control IT</text>
<line x1="473.70" y1="442.80" x2="486.80" y2="442.80" stroke="#ff2020" stroke-width="1.0"/>
<polygon points="480.10,439.90 483.00,442.80 480.10,445.70 477.20,442.80" fill="#ff2020"/>
<text transform="translate(494.50 446.00) scale(1 1.1)" font-size="9.3" text-anchor="start" fill="#111" font-weight="normal">Control IT Distant</text>
<line x1="473.70" y1="456.70" x2="486.80" y2="456.70" stroke="#2050ff" stroke-width="1.0"/>
<rect x="477.40" y="454.00" width="5.4" height="5.4" fill="#2050ff"/>
<text transform="translate(494.50 459.90) scale(1 1.1)" font-size="9.3" text-anchor="start" fill="#111" font-weight="normal">CD40 IT + ICB IT</text>
<line x1="473.70" y1="471.70" x2="486.80" y2="471.70" stroke="#9a88c8" stroke-width="1.0"/>
<circle cx="480.10" cy="471.70" r="2.3" fill="none" stroke="#3a2470" stroke-width="1.4"/>
<text transform="translate(494.50 474.90) scale(1 1.1)" font-size="9.3" text-anchor="start" fill="#111" font-weight="normal">CD40 IT + ICB IT distant</text>
<line x1="473.70" y1="486.40" x2="486.80" y2="486.40" stroke="#ff9a30" stroke-width="1.0"/>
<polygon points="477.00,488.60 483.20,488.60 480.10,483.40" fill="#ff9a30"/>
<text transform="translate(494.50 489.60) scale(1 1.1)" font-size="9.3" text-anchor="start" fill="#111" font-weight="normal">CD40 IT + ICB IP</text>
<line x1="473.70" y1="501.40" x2="486.80" y2="501.40" stroke="#30b8f0" stroke-width="1.0"/>
<rect x="477.60" y="498.90" width="5.0" height="5.0" fill="none" stroke="#2a60ff" stroke-width="1.3"/>
<text transform="translate(494.50 504.60) scale(1 1.1)" font-size="9.3" text-anchor="start" fill="#111" font-weight="normal">CD40 IT + ICB IP Distant</text>
<line x1="473.70" y1="518.00" x2="486.80" y2="518.00" stroke="#8a5a2a" stroke-width="1.0"/>
<polygon points="477.00,515.80 483.20,515.80 480.10,521.00" fill="#8a5a2a"/>
<text transform="translate(494.50 521.20) scale(1 1.1)" font-size="9.3" text-anchor="start" fill="#111" font-weight="normal">CD40 IP+ICB IP</text>
<line x1="578.90" y1="424.10" x2="578.90" y2="459.80" stroke="#111" stroke-width="1.25"/>
<path d="M583.50,439.15L583.50,442.65M581.98,440.02L585.02,441.77M585.02,440.02L581.98,441.77" stroke="#111" stroke-width="0.85" fill="none"/>
<path d="M583.50,443.75L583.50,447.25M581.98,444.62L585.02,446.38M585.02,444.62L581.98,446.38" stroke="#111" stroke-width="0.85" fill="none"/>
<line x1="600.50" y1="424.10" x2="600.50" y2="474.40" stroke="#111" stroke-width="1.25"/>
<path d="M603.20,443.95L603.20,447.45M601.68,444.82L604.72,446.57M604.72,444.82L601.68,446.57" stroke="#111" stroke-width="0.85" fill="none"/>
<path d="M603.20,448.55L603.20,452.05M601.68,449.43L604.72,451.18M604.72,449.43L601.68,451.18" stroke="#111" stroke-width="0.85" fill="none"/>
<line x1="607.80" y1="422.90" x2="607.80" y2="484.70" stroke="#111" stroke-width="1.25"/>
<path d="M611.50,450.95L611.50,454.45M609.98,451.82L613.02,453.57M613.02,451.82L609.98,453.57" stroke="#111" stroke-width="0.85" fill="none"/>
<path d="M611.50,455.55L611.50,459.05M609.98,456.43L613.02,458.18M613.02,456.43L609.98,458.18" stroke="#111" stroke-width="0.85" fill="none"/>
<line x1="615.70" y1="424.10" x2="615.70" y2="499.70" stroke="#111" stroke-width="1.25"/>
<path d="M619.20,459.95L619.20,463.45M617.68,460.82L620.72,462.57M620.72,460.82L617.68,462.57" stroke="#111" stroke-width="0.85" fill="none"/>
<path d="M619.20,464.55L619.20,468.05M617.68,465.43L620.72,467.18M620.72,465.43L617.68,467.18" stroke="#111" stroke-width="0.85" fill="none"/>
<line x1="623.40" y1="424.10" x2="623.40" y2="517.50" stroke="#111" stroke-width="1.25"/>
<path d="M626.70,464.95L626.70,468.45M625.18,465.82L628.22,467.57M628.22,465.82L625.18,467.57" stroke="#111" stroke-width="0.85" fill="none"/>
<path d="M626.70,469.55L626.70,473.05M625.18,470.43L628.22,472.18M628.22,470.43L625.18,472.18" stroke="#111" stroke-width="0.85" fill="none"/>
<line x1="635.00" y1="437.00" x2="635.00" y2="472.30" stroke="#111" stroke-width="1.25"/>
<path d="M639.10,453.55L639.10,457.05M637.58,454.43L640.62,456.18M640.62,454.43L637.58,456.18" stroke="#111" stroke-width="0.85" fill="none"/>
<line x1="642.70" y1="437.00" x2="642.70" y2="487.80" stroke="#111" stroke-width="1.25"/>
<path d="M646.40,462.65L646.40,466.15M644.88,463.52L647.92,465.27M647.92,463.52L644.88,465.27" stroke="#111" stroke-width="0.85" fill="none"/>
<line x1="650.30" y1="437.00" x2="650.30" y2="516.90" stroke="#111" stroke-width="1.25"/>
<path d="M654.10,473.65L654.10,477.15M652.58,474.52L655.62,476.27M655.62,474.52L652.58,476.27" stroke="#111" stroke-width="0.85" fill="none"/>
</svg>
</body></html>
